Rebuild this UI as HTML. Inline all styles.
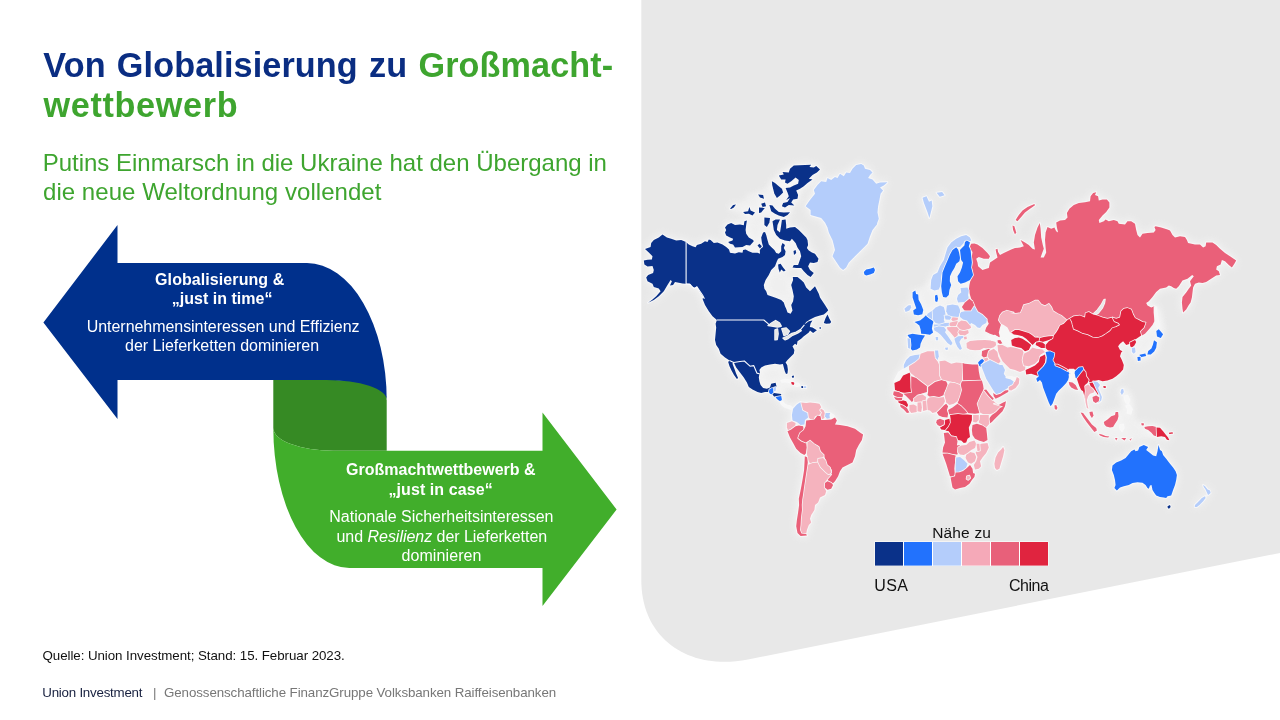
<!DOCTYPE html>
<html lang="de">
<head>
<meta charset="utf-8">
<title>Von Globalisierung zu Großmachtwettbewerb</title>
<style>
html,body{margin:0;padding:0;background:#fff;}
body{width:1280px;height:720px;position:relative;overflow:hidden;font-family:"Liberation Sans",Arial,sans-serif;}
.t{position:absolute;white-space:nowrap;line-height:1;margin:0;}
#bg{position:absolute;left:0;top:0;width:1280px;height:720px;}
.title{font-weight:bold;font-size:34.67px;color:#0a2d82;}
.green{color:#3ea52f;}
.sub{font-size:24px;color:#3ea52f;}
.aw{color:#fff;font-size:16px;text-align:center;}
.b{font-weight:bold;}
.src{font-size:13.33px;color:#111;}
.ft{font-size:12px;color:#17203f;}
.ftg{color:#777;}
.lg{font-size:15.5px;color:#111;}
</style>
</head>
<body>
<svg id="bg" width="1280" height="720" viewBox="0 0 1280 720">
  <defs><filter id="glow" x="-5%" y="-5%" width="110%" height="110%"><feGaussianBlur stdDeviation="4"/></filter><filter id="mist" x="-5%" y="-5%" width="110%" height="110%"><feGaussianBlur stdDeviation="2.5"/></filter></defs>
  <!-- grey panel -->
  <path d="M641.3 0 H1280 V553 L748 659.5 C690 671 641.3 640 641.3 580 Z" fill="#e8e8e8"/>
  <!-- arrows -->
  <path d="M273.3 380 H330 C386.7 380 386.7 395 386.7 400 V450.8 H333.3 A60 22.8 0 0 1 273.3 428 Z" fill="#368a24"/>
  <path d="M43.4 322.5 L117.5 225 V263 H307 A79.7 137 0 0 1 386.7 400 A60 20 0 0 0 326.7 380 H117.5 V419 Z" fill="#00308c"/>
  <path d="M616.6 509.4 L542.5 412.5 V450.8 H333.3 A60 22.8 0 0 1 273.3 428 A76 140 0 0 0 349.3 568 H542.5 V606 Z" fill="#41ae2b"/>
  <g id="map" stroke="#f8f8f8" stroke-width="1.5" stroke-linejoin="round" paint-order="stroke">
<path fill="#ffffff" opacity="0.32" stroke="none" filter="url(#mist)" d="M727.5,208.8 733.8,203.1 745,200 747.5,193.8 757.5,192.5 767.5,187.5 771.2,180 780,173.8 790,167.5 805,164.4 816.2,165 820.6,169.4 812.5,180 800,190 798.8,200 792.5,206.2 791.2,212.5 786.2,217.5 775,217.5 767.5,216.2 760,217.5 755,220 750,220 745,217.5 738.8,213.8ZM725,223.8 746.2,220 765,220 777.5,226.2 787.5,227.5 796.2,238.8 800,251.2 795,263.8 790,272.5 777.5,273.8 777.5,257.5 765,252.5 752.5,253.1 730,253.1 726.2,246.9 725,232.5ZM767.5,270 778.8,272.5 791.2,276.2 792.5,290 791.2,300 785,305 775,297.5 767.5,295 763.8,285ZM760,365 782.5,364.4 786.2,375 795,380 807.5,386.2 806.2,388.8 795,387.5 785,391.2 782.5,400 790,406.2 793.8,402.5 785,408.8 780,402.5 776.2,387.5 770,388.8 761.2,386.2 758.8,377.5ZM910,351.2 921.2,350 925,336.2 933.8,332.5 935,327.5 946.2,327.5 955,338.8 966.2,345 970,350 982.5,351.2 981.9,357.5 978.8,363.1 962.5,363.1 951.2,363.8 939.4,361.2 935,351.2 920,354.4 906.2,360ZM966.9,332.5 971.2,330 977.5,328.1 986.2,327.5 993.8,336.2 991.2,340.6 977.5,340.2 966.5,343.1ZM915,291.2 931.2,280 940,285 942.5,297.5 948.8,295 950,276.2 957.5,262.5 961.2,267.5 958.1,281.2 970,280.6 967.5,287.5 960.6,288.1 957.5,300 946.2,305 932.5,315 922.5,312.5 918.8,300ZM1118.8,387.5 1126.2,387.5 1132.5,396.2 1133.1,415 1128.8,427.5 1120,430 1117.5,417.5 1122.5,405 1120,395ZM1080,411.2 1093.8,410 1117.5,411.2 1132.5,407.5 1135,418.8 1145,425 1157.5,426.2 1170,437.5 1155,437.5 1132.5,441.2 1115,441.2 1097.5,435 1096.2,428.8ZM1146.2,303.1 1155,306.2 1160,307.5 1165,330 1160,340 1157.5,351.2 1148.8,357.5 1137.5,360 1131.2,355 1132.5,346.2 1142.5,335.6 1152.5,325 1155,311.2Z"/>
<path fill="#ffffff" fill-rule="evenodd" stroke="none" opacity="0.6" filter="url(#glow)" d="M892.2,394.1 893,395.9 893.1,397.3 894.8,399.9 897,401.2 897.7,403 898.8,404 899.8,407.5 903,410.1 906.4,414 909.8,413.5 911.4,414.1 918.2,412.4 921.4,412.9 922.7,412 927.1,411.1 929.5,411.6 932.2,414.1 936,413.4 938.4,416.7 938.4,418.2 936,419.5 935.3,422.6 936.7,425.6 938.7,426.8 940.5,430 942.6,430.7 943.2,431.5 942.8,433.2 943.9,442.3 942.2,447.3 941.5,454 949.6,477.4 951.5,487.8 954.8,490.3 965.3,487.8 970,484.5 975.3,477.2 976,473.6 974.3,472.2 974.3,470.9 975.1,470.4 979.2,469.6 982.2,466.6 981.3,461.2 987.1,453.6 989.7,447.6 987.9,441.7 988.5,440 987.4,427.8 990.1,424.5 992.6,422.6 1003.3,411.9 1005.9,406.6 1007,401.3 1006.6,400.5 1005.7,400.3 998.7,403.6 995.6,401.7 995.4,400.2 1008.6,392.8 1009.6,391.6 1011.7,391.5 1016.2,388.9 1019.7,384.2 1020.3,378.5 1017.4,376 1016.5,375.9 1015,376.9 1011.3,375.9 1007.4,376.3 1006.4,375.9 1005,373.4 1006,370.1 1005.6,368.4 1006.4,367.5 1007.4,367.6 1009.6,369.7 1019.7,372.8 1024.2,371.7 1024.9,372.3 1025.3,374.7 1026,375.3 1031.2,374.8 1035.5,376.3 1035.9,377.3 1035.3,378.9 1036.7,382.5 1037.7,382.9 1039.7,381.9 1040.9,382.9 1042.2,387.9 1047.8,402.8 1049.8,406.8 1050.7,407.2 1052,406.4 1053,406.5 1053.9,409.3 1056,411 1057,410.6 1058.5,407.8 1057,404.3 1054.7,404.2 1053.9,403 1057.1,394.4 1059.5,391.2 1066.4,384.4 1067.9,384.3 1070.6,388.2 1074.6,390.3 1078.1,391 1079.5,390.4 1080.4,390.6 1082.3,392.2 1086,408.5 1088.6,410.3 1088.4,412 1089.1,415.6 1088.7,416.6 1087.4,416.8 1083.7,412.3 1080.3,411.6 1079.7,412.8 1082.2,417.4 1086.1,423.1 1093.7,432.6 1094.6,432.9 1097,432.1 1097.7,432.8 1097.9,434.2 1099.5,436.5 1103.5,437.8 1108.5,438.4 1110.2,437 1110.1,435.8 1106,435 1102.2,433.4 1098.1,432.5 1097.1,427.6 1092.6,423.7 1090.4,420.8 1090.5,419.6 1092.6,418.8 1094.5,415.5 1093.2,410.8 1092.6,410.5 1090.3,410.7 1089.5,410 1088,399.8 1089.1,396.7 1090.5,395.8 1091.5,396.7 1092.3,401.8 1095.2,404 1098.5,404.1 1101.9,401.4 1102.9,396.7 1099.5,387.9 1100.3,386.5 1101.1,386.1 1102.1,386.5 1102.9,388.6 1103.5,389.1 1106.4,388.7 1107,387.6 1106.5,385.6 1106,385.1 1101.4,385.3 1100.3,383.6 1100.4,382.5 1101.2,382 1102.5,382.2 1107.7,381.6 1113,379.6 1120.6,373.9 1124,369.9 1124.7,364.8 1121.2,356.2 1122.1,353.2 1123.5,351.1 1123.1,350.5 1120.8,349.2 1119.6,346.9 1119.6,346 1120.8,344.4 1123.1,343.1 1125.9,345.9 1128.1,345.5 1128.8,345.8 1130.8,348.2 1131,352.4 1133.2,354.6 1134.2,354.6 1136.6,352 1135.4,346 1137.2,342.1 1137,339.8 1141.3,336.8 1145.7,334.5 1154.1,325 1155.4,325.5 1156.7,328.7 1156.5,329.6 1155.3,330.9 1156.2,337.1 1160.6,339.1 1161.7,338.6 1164.1,334.2 1159.7,328.6 1160.4,326.1 1157.9,313.7 1157.2,307.1 1154.6,305.3 1150.8,306.2 1148.3,304.8 1147.8,303.9 1148.1,303.1 1153.2,297.5 1157,292.6 1160.4,289.7 1166.5,288.5 1169.2,286.8 1170.8,287.2 1173.4,289.1 1176.6,289.7 1179.5,286.9 1183.2,281.5 1188.1,279.8 1189,280.6 1189.9,285.6 1181.5,296.8 1180.9,302.5 1181.5,308.8 1182.2,312.9 1182.8,313.5 1183.6,313.4 1187.1,309.9 1191.5,302.9 1192.9,297.6 1194.1,287.9 1195.7,284.7 1198.8,283.6 1202.6,284.1 1206.5,282.8 1216.5,276.6 1220.7,275.7 1221,274.8 1219.7,270.8 1217.8,269.2 1217.5,268.2 1218.1,266.8 1221.4,265 1222.7,261.9 1224.4,262.1 1228.2,265.8 1232,268.5 1232.6,268.1 1235.2,264.3 1237.2,261.1 1237.2,260.3 1225.6,252.3 1216.9,244.2 1212.9,241.6 1205.9,241.6 1205.3,242.2 1204.7,245.3 1203.7,246 1202.8,245.7 1200.3,243.4 1195.1,243.4 1189.4,242.3 1188.7,241.8 1185.5,236 1179.9,235.3 1175.2,236.2 1173.3,234.3 1170.6,229.8 1167.9,228.4 1161.6,226.5 1155.3,225.3 1153.4,226.6 1154.3,229.7 1153.2,231.5 1142.2,232.8 1140.5,234.9 1139.5,235.2 1138.4,234.3 1135.9,223.3 1131.6,220.3 1127.1,220.3 1124.9,222.9 1124,223.3 1119.7,222.8 1118.1,220.4 1113.9,219 1109,220.1 1105.5,218.4 1103.1,220.4 1101.4,220.7 1100.8,220 1101,218.9 1107,212.5 1110.3,207.9 1110.4,202.3 1107.2,198.4 1099.8,198.7 1098.9,195.7 1096.9,194.4 1097.2,192.1 1096.4,191.3 1092.3,192.5 1089.7,195.9 1089.2,199.7 1088.6,200.5 1078.5,202.2 1073.1,204.3 1068.6,208.1 1066,212.6 1066.1,217.5 1064.5,219 1059.7,219.7 1055.6,221.7 1055.3,222.4 1055.6,225.5 1055.1,226.3 1051.4,227.5 1047.8,225.9 1046.8,226.1 1044.7,232.1 1044.4,234.9 1043.6,235.7 1042.7,235.6 1042.1,234.9 1040.7,222.8 1040,222.2 1039.1,222.4 1036.6,227.1 1034,234.8 1032.8,242.4 1033.1,245.2 1032.6,246.1 1031.4,246.1 1029.4,244.2 1025.6,241.7 1021,239.1 1020.3,239.1 1019.7,240.3 1021.8,244.9 1021,246.1 1014.8,247.2 1011,248.4 1000.9,253.3 1000,253 999.1,251.6 998.1,248 997.3,247.8 995.1,248.6 994.6,249.5 996.1,256.9 991.3,260.3 990.3,260.2 989.8,259.3 990.9,255.9 988.3,252.5 983.2,247.4 978,243.5 972.6,242.3 972.2,240.2 970.6,236.7 966.4,234 960.9,235.3 955.7,237.9 950.7,241.7 946.7,247 942.8,259.5 939.1,265.8 936.8,271.5 932.2,274.7 930.3,279.8 929.6,288.9 930.1,289.6 934.2,291.6 940.1,290.4 940.7,291.1 942.3,297.5 946,298.5 946.9,298.3 949.7,295.4 950.4,290.2 952.2,285.2 950.8,281.1 951.1,276.3 957.1,264.4 960.6,261.8 961.5,262.1 961.9,262.9 960.9,267.1 959.1,272 956.5,276.1 957.2,281.6 960.7,284.8 967.8,282.6 968.6,283.6 968.2,285.8 967.3,286.5 960.9,287 959.8,287.6 960,292 957.3,294.4 955.9,298.5 957.1,302.7 956.6,303.9 952.3,303.4 946.6,304.7 944.8,306.1 939.7,304.7 935.1,306.7 931.9,309.8 924.8,314.6 923.9,314.3 923.5,313.6 924.2,309.6 922,303.7 919.6,299.5 919.1,294.2 917,292.9 916.3,290 915.7,289.5 914.9,289.5 911.9,291.5 911.6,297.7 913.4,304 912.4,304.8 910.7,304 907.7,304.7 903.7,308 903.4,309 904.7,312.2 905.8,312.8 911.6,310.7 912.3,311.4 913.5,315.3 918.1,316.3 921.4,315.5 922.2,316 922.5,316.8 919.6,319.6 914.1,320.9 913.4,321.7 913.7,322.6 918.5,326.3 919.7,329.7 920.1,332.5 919.7,333.4 918.8,333.7 912.4,332.8 907.2,334.1 906.6,334.6 907.1,336.6 906.5,338.1 907.1,348.3 907.7,349 910.3,349.9 912.3,351.6 917.4,350.2 920.9,348 921.6,343.9 923.4,339.9 926.1,335.7 926.9,335.3 930.3,335.7 935.2,332.3 937,333.2 938.2,334.7 937.6,335.7 935.3,335.9 934.7,336.5 935.3,341 938.8,341 939.2,337.3 939.9,336.7 940.7,336.7 948,344.9 948,345.8 947.5,346.4 944.7,346.8 944.1,347.3 945.1,350.6 948.1,350.8 949.4,347 951.6,346.4 953.1,344 954.1,343.7 955,344.1 956.7,347.4 959.3,350.7 960.6,350.8 962.9,348.9 960.6,342 961.8,339.9 962.8,339.5 964,340.3 965.5,340.4 966.2,341.1 965.5,343.1 966,348.7 969.8,350.7 980.4,351.2 980.9,352 980.7,355.9 981.4,357.9 976.3,363.4 965.3,362.8 956.3,361.5 951.3,362.6 945.3,359.7 940.2,360.1 939.3,359.8 939,358.8 939.7,356.2 939.1,350.5 938.1,349.6 934.9,349.6 933.6,350.2 927.3,350.3 919.4,353.4 909.6,355.3 905.4,359.5 902.8,364.7 902.6,368.7 898,371.9 893.5,380.8 893.9,389.4 892.8,390.9ZM1076.9,381.9 1076.7,383 1075.6,383.5 1074.2,382.6 1073.8,381.6 1074.5,380.3 1075.4,379.9 1076.3,380.4ZM987,388.7 984.5,387.8 982.8,380.4 980.9,377.1 979.9,371.6 980.7,370.4 982.1,371.1 985.4,379.2 992.6,391 992.6,392.2 991.7,393.3 990.5,393.2ZM988.4,259.8 989.4,260.2 989.6,261.1 987.5,267.3 982.8,268.7 979.1,265.7 977.6,259.7 978.5,258.3 979.4,258.2 983.6,259.7ZM985.3,327.1 984,331.4 984.5,332.1 988.7,334.5 988.7,335.4 987.8,336.7 988,338 987.5,338.9 977.4,339.3 969.1,340.2 968.1,339.7 967.5,335.5 969.6,333.6 969.3,330.3 972.1,328.3 972,326.4 972.4,325.6 973.7,325.5 977,328.4 979.9,329.1 980.6,328.9 983.8,325.5 985.1,325.8ZM970.6,440.5 969.5,440.2 969.3,438.9 971.3,437 972.4,437 973.5,438.4 973.5,439.3 972.8,440ZM962.1,304.7 960.5,306.4 959.5,306 958.8,304.7 959.2,303.7 960.9,303.2 961.8,303.6ZM958.3,442.4 959,441.5 960.4,441.5 961.3,442.2 961.5,443.1 960.8,444 959.2,444 958.4,443.4ZM953.4,338.6 952.6,339.5 951.4,339.3 949.5,336.6 949.7,335.3 950.5,334.9 951.3,335.2 953.3,337.6ZM914.1,308.6 913.1,308.7 912.3,308 912,306.1 912.8,305.1 913.7,305.2 914.3,305.9 914.8,307.5ZM908.2,402.9 908.2,401.8 909.2,401.2 910,401.5 910.8,402.6 910.5,403.6 909.6,404 908.8,403.7ZM905.9,400 903.4,399.1 903.3,398.2 903.9,396.9 905,396.6 906.7,398.1 906.8,399.1ZM1194.3,504.3 1193.8,506.7 1194,507.6 1197.4,507.7 1203.9,501.8 1206.5,498.6 1206.8,496.3 1208.6,495.9 1211.5,493.5 1210.7,490 1208.2,488.6 1205.7,485.5 1203.5,484.1 1202.5,484.2 1202.2,485.2 1202.9,487.4 1204.8,490 1206.3,493.6 1206.3,494.5 1201.3,497.3ZM1120.5,488.4 1129.1,485.9 1133,484.1 1137.5,483.3 1141.9,483.7 1144.9,485.7 1147,489 1148.7,489.7 1150.1,489.1 1151.1,489.4 1153.5,493.6 1155.8,496.5 1159.8,497.8 1166.3,499.1 1168.3,497.2 1172,496.3 1176,485.2 1177.2,480.1 1177.8,474.8 1176.5,470.8 1174,467 1164,454.5 1162.7,450.8 1160.8,449.2 1159.1,444.2 1158.2,444.1 1157.6,444.7 1156.5,451.1 1155.8,454.1 1155.1,454.8 1153.4,454.6 1148.1,450.2 1148,449.2 1149.1,447 1148.8,446.1 1143.5,444 1138.7,446.1 1137,449.6 1136,449.7 1134.2,448.4 1130.8,450.4 1124.9,457.4 1120.8,459.7 1115.8,461.6 1111.7,465 1110.9,470.2 1112.8,475.4 1114.6,484.6 1113.5,488.6 1116.2,491.4 1117,491.6ZM1140.9,422.5 1140,423.5 1141,426.1 1143.2,426.9 1144.3,429.5 1147.8,431 1150.5,433.2 1153.2,436.4 1156.5,437.8 1161.2,437.3 1164,437.7 1166.3,440.6 1169.6,441.2 1170.4,440.1 1168.7,436.6 1168.8,435.5 1169.6,435 1173.5,434.4 1174.1,433.8 1173.3,431.7 1172.6,431.3 1168.4,431.8 1167.2,433.2 1166.1,433.2 1160.4,426.8 1157.6,426.6 1152.6,425 1145.8,425.5 1145,425 1144,422.3ZM1171.4,507.6 1171.6,506.5 1170.3,504.1 1169.5,504.1 1166.6,505.9 1166.9,508.6 1168.6,509.7 1169.6,509.5ZM1139.2,353.7 1138.1,355.8 1136.9,356.3 1136.4,357.1 1137,361.4 1137.8,362.1 1141.4,361.3 1141.6,358.7 1142.2,357.9 1146.5,357 1148,355.4 1151.4,355.2 1155,352.3 1157.1,348.2 1157.7,341.7 1154.5,339.4 1153.4,339.4 1150.6,347.6 1147.5,350.3 1146.7,352.2ZM1118.2,438.7 1119.1,438 1117.7,436.9 1114.7,437.2 1114,437.9 1115.3,441 1116,441.6 1117.1,441.2ZM1119.7,438 1124.4,441.6 1127.2,439.2 1130.1,441.5 1131,441.5 1132.9,438.1 1131.9,437.1 1128.5,438.9 1127.6,438.7 1126.3,437.1 1121.2,437.1ZM1121,395.4 1123.3,396.6 1123.8,399.7 1126.2,404 1125.3,406.3 1127,409.6 1126.6,413.6 1127.3,414.1 1131.1,414.6 1132.9,409.4 1129.5,403.5 1130.3,399.7 1128.1,394.8 1125,395.1 1124.1,394.4 1124,393.6 1124.7,391.8 1124.1,388.5 1123.4,387.8 1120.8,388.5 1120.3,389.1 1119.6,392.6ZM1119.3,429 1121.7,432.2 1122.5,432 1124.7,428.4 1124.1,424.1 1123.4,423.4 1119.7,424 1119.1,424.7ZM1119.1,411.8 1118.3,410.9 1115.2,411 1113.9,414.2 1110.7,415.4 1103,421.2 1102.8,422 1103.5,424.8 1105.6,427.2 1109.9,428.5 1113.9,427.6 1118.4,420.4 1119.5,416.3ZM1021.9,209.8 1017.9,214.4 1014.7,219.6 1014.9,220.7 1017.1,222.2 1018.2,222 1025.7,213.2 1035.6,206 1035.9,204.9 1035.1,203.3 1034.1,203 1027,206ZM1017.1,233.1 1017.2,232.2 1015.2,225.7 1012.8,224.7 1012,224.8 1011.5,225.7 1012.2,230.2 1014.2,234.9 1015.6,235.2ZM1004.1,446.5 1003.4,445.9 1002.5,446.1 997.3,451.9 994.7,457.2 993.4,463.9 994.1,468.5 996.6,471 999.8,469.7 1000.3,469 1004.1,456.6 1005.3,450.2ZM936.5,191.8 935.7,192.3 935.7,193.2 939.4,197.8 945.5,195.7 945.4,194.7 942.5,191.1ZM939.1,299 937.9,294 937,293.8 934.3,295 934.2,301.3 934.6,302 937,302.9 937.8,302.7ZM922.2,196.9 921.5,197.9 923,203 928.5,218.4 929.8,219 930.4,218.3 933.4,206.4 932.6,200.2 931.8,199.5 930.1,200 929.3,199.7 926.8,195.3ZM827.8,232.7 831.5,240.4 833.9,249.7 831.6,256.6 839.2,268.1 842.6,270.8 843.5,270.9 847,268.1 849.7,263 868.4,244.2 873.4,230.6 878.5,224 878.4,222.6 879.7,218.8 878.5,212.5 879.1,206.3 881.5,194.4 884.1,190.7 882.7,188.7 882.6,187.7 888.2,182.9 888.2,181.6 887.4,181.3 880,181.5 877.2,182.4 876.3,182.2 873.1,178.6 870.9,177.9 870.4,177.2 870.8,175.6 873.4,173 873.3,171.9 870.5,169.1 865.9,167.9 864.5,164.9 861.2,163 855.7,164.2 851.7,168.1 849.7,171.6 848.9,171.9 845.9,171.6 843.6,174.3 842.7,174.3 839.7,172.8 837,176.4 834.6,176 831.1,178.6 827.3,177.2 826.6,177.6 825.3,180.5 820.6,180.5 816.7,184.4 812.9,189.5 813.6,193.9 809.2,199.4 804.6,206.4 809.5,210.5 810,215.8 820.9,219.3 824.2,223.2 826.5,227.9ZM866.1,268.4 863.1,271.1 862.8,271.9 863.6,275 866.1,276.6 874.3,273.9 876,270.2 874.6,267 873.9,266.5ZM650.5,242.5 649.6,246.1 644.6,248.1 644,249 651,256.2 651.1,257.8 650.4,258.5 643.4,259.7 642.8,260.7 643.7,265.1 647.2,267.5 651.5,267.3 652.7,270.4 652,272.4 647.5,274.2 645.3,277.6 646.8,282 651.5,284.4 653.1,287.6 657.9,289.3 659,291.1 655.5,295.6 647.4,302.1 647.4,303.4 648.5,303.7 654.2,300.9 659.3,297.1 664.5,291.9 667.9,286.4 668.8,286.2 670.1,286.6 673.5,285.9 675.8,283.2 682.5,284.5 689.3,284.8 691.3,287.1 694.5,289 697,289 702,296.8 701.5,299 704.2,305.5 707.9,311.7 711.7,316.8 715.5,320.4 714.6,323.7 715.2,327.6 714,340 715.3,345.4 717.8,349.2 719.8,354.4 727.3,360.4 727.3,362.1 728.6,366.7 733.1,375.5 736,379.6 737.2,379.9 739,378.7 739.1,377.9 738.1,375 738.8,374.1 739.9,374.1 745.9,382.9 748.2,387.7 752.1,390.3 757,392.8 761,394.1 765.2,392.9 768.1,393 769.4,394.6 771.7,395.3 773.1,397 774.9,397.8 777.4,400.7 779.6,402.1 780.2,403.7 781.8,405.7 784.4,407.7 791.5,410.5 790.9,415 791.3,420 790.7,420.6 786.4,422.2 785.9,422.9 785.9,427.6 786.8,430 786.5,431.5 789.1,438 795.4,449.3 800,453.9 803.2,455.5 803.7,456.5 803.1,470 797.8,498.6 798.1,505.1 795.3,526.3 796.6,533.6 799.9,536.7 800.7,537 807.3,536.5 807.9,535.8 807.3,533.8 807.9,530.2 809.6,525.6 812.2,522.7 811.2,518.5 812.2,515.4 815.3,510.3 816,505.6 819,503 820.9,498.3 825.8,495.7 827.5,491 832,489.4 834.1,485.4 834.1,483.6 835.8,481.9 839,476.8 840.9,471.7 843.1,468.4 853.3,463.1 856,456.5 857.2,450.3 862.8,440.3 864.1,434.1 855.4,427.8 847.7,425.3 837.7,423.5 837.2,422.5 837.8,420.3 834.5,415 830.3,412.2 825.5,411.8 824.5,409.9 822.3,408.2 822.2,406.5 819.7,402.8 810,401.5 806.1,402.1 802,401.6 800.4,400.9 796.2,403.6 792.9,406.9 790.4,405.3 787.3,404.7 785.3,403.7 782.8,400.6 782,393.4 777.6,392.5 776.8,391.8 776.9,387.9 777.5,386.2 776.4,382.1 775.5,381.8 770.7,382.9 768.7,387 766.8,387.7 764,387.2 761.5,384.4 759.8,377.4 761,372.7 760.6,370.2 761.9,368.4 765.5,366.5 774.9,364.8 781.9,365.5 785.2,374.6 786.1,375 788.1,374.3 788.5,373.7 788.9,369.3 788.2,364.8 787.1,362.3 794.7,354.1 795.4,350 794,347 794.2,346 795.2,345.4 796.7,346 797.5,345.8 798.7,341.7 809.9,332.8 810.9,332.7 813.4,334.1 818.3,330 820,330 821.9,328.9 821.6,326.6 820.9,325.9 818.7,326.8 818.2,328.5 817.2,329.1 811.5,326 811.5,324.1 813.4,321 813.6,318.8 815.4,317.8 824.1,315.5 824.9,315.9 825.1,316.8 822.8,322.9 823.1,323.9 826.2,324.7 830.2,324.5 832.1,322.3 832.2,321.4 827.9,313.1 828,312.2 829.1,310.9 829,309.6 820.9,297.1 819.6,293.3 815.8,285.6 814.5,285.4 810.8,289.1 809.4,289.2 807,286.8 804.5,281.9 798,276 792.7,275.9 791.8,276.7 792.1,279.9 790.3,285 792.7,296.4 792.2,300.9 790.3,304.8 791.4,310.3 790.1,312.1 788.3,311.5 784.6,302 782,299.3 768.5,294.2 767.1,290.7 765.3,288.1 764.8,285 766.5,280.4 772,270.7 775.5,267.2 776.5,266.9 777.2,267.5 778.8,272.8 779.4,273.4 780.3,273.3 781.6,271.8 783.9,272.5 786.5,271 786.5,270.1 781.3,263 778.6,263 777.8,261.9 779,259.5 783,257.7 785.9,255.3 786.6,251.2 785,248.1 786,245.1 784.8,243.1 785.4,241.9 790.1,242.2 791.6,241.1 792.8,241.4 794.8,243.7 796.4,247.8 795.9,248.8 792.6,250.6 793.1,255.5 794.5,255.9 797.5,252.9 798.4,252.6 799.4,253.2 800.1,255.8 797.5,263.5 796.8,264 793.1,264.2 791.6,267.1 791.7,268.1 796.1,269.1 800.8,269.3 806.8,275.7 810.2,277.8 811.3,277.6 814.7,273 810.8,269.3 809.5,266.7 809.5,265.7 810.9,263.8 813.9,264.1 818.1,262.7 819.4,258.3 815.7,253 809.6,250 808.4,248.5 808.2,247.6 809.1,245 808.4,239.5 807,236.9 799.5,229.3 795.3,225.9 788.5,226.9 787.5,226.4 786.6,219.2 785.9,217.4 788.2,215.7 790.7,212.9 790.7,211.6 790.1,211.3 783.8,211.5 779.2,210.9 775.7,208 773,204.7 769.4,204 767.9,204.9 766.9,204.7 765.9,202 764.4,200.7 763.8,201.8 760.4,203.2 760.6,205.7 760,206.4 758.1,207 758,211.4 757.4,212.3 756.4,212.4 751.6,209.9 750.2,206.4 749.4,205.9 748.5,206.4 747.2,210.2 742.8,210.9 742.2,212.1 744.6,214.9 748.6,214.8 752.7,216.6 756.5,212.5 757.5,212.6 758.9,214.1 761.8,213.3 766.2,207.4 767.9,206.3 768.9,207 770.5,212 777.8,216.4 778.1,217.3 777.6,218.2 775.3,218.4 772.2,220.1 771.1,219.5 771,217.9 770.4,217.2 763.8,216.7 763.4,217.4 763.4,225 763.8,225.8 767,227.9 767.7,227.5 770,223.6 770.8,223.2 771.6,223.5 772.8,230.3 775.4,235.5 779.4,239.5 782.1,240.9 782.2,241.9 780.3,246.1 780.2,250.7 778.5,252.4 776.9,252.1 775.2,249.4 769.7,243.9 767.2,234.6 765.9,231.4 765.1,230.9 762.3,232 760.3,237.3 760.7,242 760,242.6 758.7,243 756.5,245.3 756.7,246.2 758.8,248.8 758.4,251.4 752.6,251.7 749.2,250.3 745.6,248.2 745.3,247 746.2,246.2 750.6,246.4 754.7,241.3 753.9,239.3 749.5,236.8 747.2,233.4 746.6,229.9 747.9,220.6 746.9,219.6 743.7,220.5 743,223.1 742.1,223.8 740,223.4 735.2,223.9 731.3,222.1 727.2,223.4 724,227.3 725,230.1 724,232.7 725.4,236.1 729.5,238.4 730,239.1 729.6,240.3 727.4,241.2 727.3,242.4 729.5,244.6 732.5,245.4 734.6,248.4 741.7,248.2 742.3,249.4 741.8,250.9 741.1,251.5 738.6,251.3 734.9,252.4 731.2,251.9 729.7,248.7 726.9,246.1 723.1,243.6 717.6,241.5 714.1,241.9 711.2,239.2 709,238.4 708.1,238.6 706.8,240.4 704.6,240.3 700.8,242.8 696.4,244.1 695.3,245.5 694.4,245.8 689.4,243.6 686.4,241 681.6,239.1 676.2,239.5 667.4,236.6 662.6,233.4 658.2,236.7 653.1,239.2ZM764.3,200.4 765,198.6 763.8,194.3 758.3,193.4 757.4,193.6 757.2,194.7 759.3,198.2 763.6,199.7ZM782.7,188.1 775.5,182.3 772.2,180.3 771,180.7 771.3,185.3 773.4,194 776.3,198.9 777.3,199 780.6,196.4 784.6,191.9 785.9,191.9 786.5,192.8 787.4,196.4 785.4,199.5 785,201.3 782.3,202.6 780.9,206 781.1,206.9 785,208.5 789.1,206.1 794.8,206.5 795.3,205.2 793.1,202.9 792.8,202 794,200.3 797.7,199.7 798.4,199.2 799.1,195 797.9,191.9 798.1,191 804.3,187.1 813.2,180.1 813.5,179.1 812.2,177.9 812.3,176.7 817.5,173.3 820.8,170 820.9,168.9 816.6,165.1 813.8,166.3 812.9,166.2 812.3,165.6 812.1,164.2 811.4,163.8 793.3,164.7 789.2,168.1 787.9,171.1 782.1,170.9 781.5,171.7 781.5,173.7 778.2,174.8 777.8,175.8 780.5,180.1 783.6,180.6 784.1,181.3 784.2,183.1 787.8,185.4 788.2,184.5 795.3,179.2 796.2,179.3 797.4,180.3 797.2,182.7 789.8,186.5 788.5,186.6 787.8,185.8 787.3,186.7 785.1,187.3 784.1,188.4ZM790.8,375.9 791.1,378.8 790.2,379.4 784.8,378.4 780.8,379.8 780.3,380.9 781.5,382.8 785.6,382.5 789.2,383.2 790.4,383.7 791.4,385.2 796.6,387.2 799.6,386.4 801.2,389 806.3,388.9 807.1,388.4 807.2,386.2 806.7,385.4 800.9,385.1 798.6,382.6 796.2,382.4 793,380.5 792.9,379 795,377.8 794.3,374.8 791,375.2ZM736.8,205 736.9,204 736.2,203.4 732.6,204.1 729.2,208.2 729.1,209.2 729.8,209.7 731.8,209.8 734.4,208.2Z"/><path fill="#f4f4f6" fill-rule="evenodd" stroke="none" d="M892.2,394.1 893,395.9 893.1,397.3 894.8,399.9 897,401.2 897.7,403 898.8,404 899.8,407.5 903,410.1 906.4,414 909.8,413.5 911.4,414.1 918.2,412.4 921.4,412.9 922.7,412 927.1,411.1 929.5,411.6 932.2,414.1 936,413.4 938.4,416.7 938.4,418.2 936,419.5 935.3,422.6 936.7,425.6 938.7,426.8 940.5,430 942.6,430.7 943.2,431.5 942.8,433.2 943.9,442.3 942.2,447.3 941.5,454 949.6,477.4 951.5,487.8 954.8,490.3 965.3,487.8 970,484.5 975.3,477.2 976,473.6 974.3,472.2 974.3,470.9 975.1,470.4 979.2,469.6 982.2,466.6 981.3,461.2 987.1,453.6 989.7,447.6 987.9,441.7 988.5,440 987.4,427.8 990.1,424.5 992.6,422.6 1003.3,411.9 1005.9,406.6 1007,401.3 1006.6,400.5 1005.7,400.3 998.7,403.6 995.6,401.7 995.4,400.2 1008.6,392.8 1009.6,391.6 1011.7,391.5 1016.2,388.9 1019.7,384.2 1020.3,378.5 1017.4,376 1016.5,375.9 1015,376.9 1011.3,375.9 1007.4,376.3 1006.4,375.9 1005,373.4 1006,370.1 1005.6,368.4 1006.4,367.5 1007.4,367.6 1009.6,369.7 1019.7,372.8 1024.2,371.7 1024.9,372.3 1025.3,374.7 1026,375.3 1031.2,374.8 1035.5,376.3 1035.9,377.3 1035.3,378.9 1036.7,382.5 1037.7,382.9 1039.7,381.9 1040.9,382.9 1042.2,387.9 1047.8,402.8 1049.8,406.8 1050.7,407.2 1052,406.4 1053,406.5 1053.9,409.3 1056,411 1057,410.6 1058.5,407.8 1057,404.3 1054.7,404.2 1053.9,403 1057.1,394.4 1059.5,391.2 1066.4,384.4 1067.9,384.3 1070.6,388.2 1074.6,390.3 1078.1,391 1079.5,390.4 1080.4,390.6 1082.3,392.2 1086,408.5 1088.6,410.3 1088.4,412 1089.1,415.6 1088.7,416.6 1087.4,416.8 1083.7,412.3 1080.3,411.6 1079.7,412.8 1082.2,417.4 1086.1,423.1 1093.7,432.6 1094.6,432.9 1097,432.1 1097.7,432.8 1097.9,434.2 1099.5,436.5 1103.5,437.8 1108.5,438.4 1110.2,437 1110.1,435.8 1106,435 1102.2,433.4 1098.1,432.5 1097.1,427.6 1092.6,423.7 1090.4,420.8 1090.5,419.6 1092.6,418.8 1094.5,415.5 1093.2,410.8 1092.6,410.5 1090.3,410.7 1089.5,410 1088,399.8 1089.1,396.7 1090.5,395.8 1091.5,396.7 1092.3,401.8 1095.2,404 1098.5,404.1 1101.9,401.4 1102.9,396.7 1099.5,387.9 1100.3,386.5 1101.1,386.1 1102.1,386.5 1102.9,388.6 1103.5,389.1 1106.4,388.7 1107,387.6 1106.5,385.6 1106,385.1 1101.4,385.3 1100.3,383.6 1100.4,382.5 1101.2,382 1102.5,382.2 1107.7,381.6 1113,379.6 1120.6,373.9 1124,369.9 1124.7,364.8 1121.2,356.2 1122.1,353.2 1123.5,351.1 1123.1,350.5 1120.8,349.2 1119.6,346.9 1119.6,346 1120.8,344.4 1123.1,343.1 1125.9,345.9 1128.1,345.5 1128.8,345.8 1130.8,348.2 1131,352.4 1133.2,354.6 1134.2,354.6 1136.6,352 1135.4,346 1137.2,342.1 1137,339.8 1141.3,336.8 1145.7,334.5 1154.1,325 1155.4,325.5 1156.7,328.7 1156.5,329.6 1155.3,330.9 1156.2,337.1 1160.6,339.1 1161.7,338.6 1164.1,334.2 1159.7,328.6 1160.4,326.1 1157.9,313.7 1157.2,307.1 1154.6,305.3 1150.8,306.2 1148.3,304.8 1147.8,303.9 1148.1,303.1 1153.2,297.5 1157,292.6 1160.4,289.7 1166.5,288.5 1169.2,286.8 1170.8,287.2 1173.4,289.1 1176.6,289.7 1179.5,286.9 1183.2,281.5 1188.1,279.8 1189,280.6 1189.9,285.6 1181.5,296.8 1180.9,302.5 1181.5,308.8 1182.2,312.9 1182.8,313.5 1183.6,313.4 1187.1,309.9 1191.5,302.9 1192.9,297.6 1194.1,287.9 1195.7,284.7 1198.8,283.6 1202.6,284.1 1206.5,282.8 1216.5,276.6 1220.7,275.7 1221,274.8 1219.7,270.8 1217.8,269.2 1217.5,268.2 1218.1,266.8 1221.4,265 1222.7,261.9 1224.4,262.1 1228.2,265.8 1232,268.5 1232.6,268.1 1235.2,264.3 1237.2,261.1 1237.2,260.3 1225.6,252.3 1216.9,244.2 1212.9,241.6 1205.9,241.6 1205.3,242.2 1204.7,245.3 1203.7,246 1202.8,245.7 1200.3,243.4 1195.1,243.4 1189.4,242.3 1188.7,241.8 1185.5,236 1179.9,235.3 1175.2,236.2 1173.3,234.3 1170.6,229.8 1167.9,228.4 1161.6,226.5 1155.3,225.3 1153.4,226.6 1154.3,229.7 1153.2,231.5 1142.2,232.8 1140.5,234.9 1139.5,235.2 1138.4,234.3 1135.9,223.3 1131.6,220.3 1127.1,220.3 1124.9,222.9 1124,223.3 1119.7,222.8 1118.1,220.4 1113.9,219 1109,220.1 1105.5,218.4 1103.1,220.4 1101.4,220.7 1100.8,220 1101,218.9 1107,212.5 1110.3,207.9 1110.4,202.3 1107.2,198.4 1099.8,198.7 1098.9,195.7 1096.9,194.4 1097.2,192.1 1096.4,191.3 1092.3,192.5 1089.7,195.9 1089.2,199.7 1088.6,200.5 1078.5,202.2 1073.1,204.3 1068.6,208.1 1066,212.6 1066.1,217.5 1064.5,219 1059.7,219.7 1055.6,221.7 1055.3,222.4 1055.6,225.5 1055.1,226.3 1051.4,227.5 1047.8,225.9 1046.8,226.1 1044.7,232.1 1044.4,234.9 1043.6,235.7 1042.7,235.6 1042.1,234.9 1040.7,222.8 1040,222.2 1039.1,222.4 1036.6,227.1 1034,234.8 1032.8,242.4 1033.1,245.2 1032.6,246.1 1031.4,246.1 1029.4,244.2 1025.6,241.7 1021,239.1 1020.3,239.1 1019.7,240.3 1021.8,244.9 1021,246.1 1014.8,247.2 1011,248.4 1000.9,253.3 1000,253 999.1,251.6 998.1,248 997.3,247.8 995.1,248.6 994.6,249.5 996.1,256.9 991.3,260.3 990.3,260.2 989.8,259.3 990.9,255.9 988.3,252.5 983.2,247.4 978,243.5 972.6,242.3 972.2,240.2 970.6,236.7 966.4,234 960.9,235.3 955.7,237.9 950.7,241.7 946.7,247 942.8,259.5 939.1,265.8 936.8,271.5 932.2,274.7 930.3,279.8 929.6,288.9 930.1,289.6 934.2,291.6 940.1,290.4 940.7,291.1 942.3,297.5 946,298.5 946.9,298.3 949.7,295.4 950.4,290.2 952.2,285.2 950.8,281.1 951.1,276.3 957.1,264.4 960.6,261.8 961.5,262.1 961.9,262.9 960.9,267.1 959.1,272 956.5,276.1 957.2,281.6 960.7,284.8 967.8,282.6 968.6,283.6 968.2,285.8 967.3,286.5 960.9,287 959.8,287.6 960,292 957.3,294.4 955.9,298.5 957.1,302.7 956.6,303.9 952.3,303.4 946.6,304.7 944.8,306.1 939.7,304.7 935.1,306.7 931.9,309.8 924.8,314.6 923.9,314.3 923.5,313.6 924.2,309.6 922,303.7 919.6,299.5 919.1,294.2 917,292.9 916.3,290 915.7,289.5 914.9,289.5 911.9,291.5 911.6,297.7 913.4,304 912.4,304.8 910.7,304 907.7,304.7 903.7,308 903.4,309 904.7,312.2 905.8,312.8 911.6,310.7 912.3,311.4 913.5,315.3 918.1,316.3 921.4,315.5 922.2,316 922.5,316.8 919.6,319.6 914.1,320.9 913.4,321.7 913.7,322.6 918.5,326.3 919.7,329.7 920.1,332.5 919.7,333.4 918.8,333.7 912.4,332.8 907.2,334.1 906.6,334.6 907.1,336.6 906.5,338.1 907.1,348.3 907.7,349 910.3,349.9 912.3,351.6 917.4,350.2 920.9,348 921.6,343.9 923.4,339.9 926.1,335.7 926.9,335.3 930.3,335.7 935.2,332.3 937,333.2 938.2,334.7 937.6,335.7 935.3,335.9 934.7,336.5 935.3,341 938.8,341 939.2,337.3 939.9,336.7 940.7,336.7 948,344.9 948,345.8 947.5,346.4 944.7,346.8 944.1,347.3 945.1,350.6 948.1,350.8 949.4,347 951.6,346.4 953.1,344 954.1,343.7 955,344.1 956.7,347.4 959.3,350.7 960.6,350.8 962.9,348.9 960.6,342 961.8,339.9 962.8,339.5 964,340.3 965.5,340.4 966.2,341.1 965.5,343.1 966,348.7 969.8,350.7 980.4,351.2 980.9,352 980.7,355.9 981.4,357.9 976.3,363.4 965.3,362.8 956.3,361.5 951.3,362.6 945.3,359.7 940.2,360.1 939.3,359.8 939,358.8 939.7,356.2 939.1,350.5 938.1,349.6 934.9,349.6 933.6,350.2 927.3,350.3 919.4,353.4 909.6,355.3 905.4,359.5 902.8,364.7 902.6,368.7 898,371.9 893.5,380.8 893.9,389.4 892.8,390.9ZM1076.9,381.9 1076.7,383 1075.6,383.5 1074.2,382.6 1073.8,381.6 1074.5,380.3 1075.4,379.9 1076.3,380.4ZM987,388.7 984.5,387.8 982.8,380.4 980.9,377.1 979.9,371.6 980.7,370.4 982.1,371.1 985.4,379.2 992.6,391 992.6,392.2 991.7,393.3 990.5,393.2ZM988.4,259.8 989.4,260.2 989.6,261.1 987.5,267.3 982.8,268.7 979.1,265.7 977.6,259.7 978.5,258.3 979.4,258.2 983.6,259.7ZM985.3,327.1 984,331.4 984.5,332.1 988.7,334.5 988.7,335.4 987.8,336.7 988,338 987.5,338.9 977.4,339.3 969.1,340.2 968.1,339.7 967.5,335.5 969.6,333.6 969.3,330.3 972.1,328.3 972,326.4 972.4,325.6 973.7,325.5 977,328.4 979.9,329.1 980.6,328.9 983.8,325.5 985.1,325.8ZM970.6,440.5 969.5,440.2 969.3,438.9 971.3,437 972.4,437 973.5,438.4 973.5,439.3 972.8,440ZM962.1,304.7 960.5,306.4 959.5,306 958.8,304.7 959.2,303.7 960.9,303.2 961.8,303.6ZM958.3,442.4 959,441.5 960.4,441.5 961.3,442.2 961.5,443.1 960.8,444 959.2,444 958.4,443.4ZM953.4,338.6 952.6,339.5 951.4,339.3 949.5,336.6 949.7,335.3 950.5,334.9 951.3,335.2 953.3,337.6ZM914.1,308.6 913.1,308.7 912.3,308 912,306.1 912.8,305.1 913.7,305.2 914.3,305.9 914.8,307.5ZM908.2,402.9 908.2,401.8 909.2,401.2 910,401.5 910.8,402.6 910.5,403.6 909.6,404 908.8,403.7ZM905.9,400 903.4,399.1 903.3,398.2 903.9,396.9 905,396.6 906.7,398.1 906.8,399.1ZM1194.3,504.3 1193.8,506.7 1194,507.6 1197.4,507.7 1203.9,501.8 1206.5,498.6 1206.8,496.3 1208.6,495.9 1211.5,493.5 1210.7,490 1208.2,488.6 1205.7,485.5 1203.5,484.1 1202.5,484.2 1202.2,485.2 1202.9,487.4 1204.8,490 1206.3,493.6 1206.3,494.5 1201.3,497.3ZM1120.5,488.4 1129.1,485.9 1133,484.1 1137.5,483.3 1141.9,483.7 1144.9,485.7 1147,489 1148.7,489.7 1150.1,489.1 1151.1,489.4 1153.5,493.6 1155.8,496.5 1159.8,497.8 1166.3,499.1 1168.3,497.2 1172,496.3 1176,485.2 1177.2,480.1 1177.8,474.8 1176.5,470.8 1174,467 1164,454.5 1162.7,450.8 1160.8,449.2 1159.1,444.2 1158.2,444.1 1157.6,444.7 1156.5,451.1 1155.8,454.1 1155.1,454.8 1153.4,454.6 1148.1,450.2 1148,449.2 1149.1,447 1148.8,446.1 1143.5,444 1138.7,446.1 1137,449.6 1136,449.7 1134.2,448.4 1130.8,450.4 1124.9,457.4 1120.8,459.7 1115.8,461.6 1111.7,465 1110.9,470.2 1112.8,475.4 1114.6,484.6 1113.5,488.6 1116.2,491.4 1117,491.6ZM1140.9,422.5 1140,423.5 1141,426.1 1143.2,426.9 1144.3,429.5 1147.8,431 1150.5,433.2 1153.2,436.4 1156.5,437.8 1161.2,437.3 1164,437.7 1166.3,440.6 1169.6,441.2 1170.4,440.1 1168.7,436.6 1168.8,435.5 1169.6,435 1173.5,434.4 1174.1,433.8 1173.3,431.7 1172.6,431.3 1168.4,431.8 1167.2,433.2 1166.1,433.2 1160.4,426.8 1157.6,426.6 1152.6,425 1145.8,425.5 1145,425 1144,422.3ZM1171.4,507.6 1171.6,506.5 1170.3,504.1 1169.5,504.1 1166.6,505.9 1166.9,508.6 1168.6,509.7 1169.6,509.5ZM1139.2,353.7 1138.1,355.8 1136.9,356.3 1136.4,357.1 1137,361.4 1137.8,362.1 1141.4,361.3 1141.6,358.7 1142.2,357.9 1146.5,357 1148,355.4 1151.4,355.2 1155,352.3 1157.1,348.2 1157.7,341.7 1154.5,339.4 1153.4,339.4 1150.6,347.6 1147.5,350.3 1146.7,352.2ZM1118.2,438.7 1119.1,438 1117.7,436.9 1114.7,437.2 1114,437.9 1115.3,441 1116,441.6 1117.1,441.2ZM1119.7,438 1124.4,441.6 1127.2,439.2 1130.1,441.5 1131,441.5 1132.9,438.1 1131.9,437.1 1128.5,438.9 1127.6,438.7 1126.3,437.1 1121.2,437.1ZM1121,395.4 1123.3,396.6 1123.8,399.7 1126.2,404 1125.3,406.3 1127,409.6 1126.6,413.6 1127.3,414.1 1131.1,414.6 1132.9,409.4 1129.5,403.5 1130.3,399.7 1128.1,394.8 1125,395.1 1124.1,394.4 1124,393.6 1124.7,391.8 1124.1,388.5 1123.4,387.8 1120.8,388.5 1120.3,389.1 1119.6,392.6ZM1119.3,429 1121.7,432.2 1122.5,432 1124.7,428.4 1124.1,424.1 1123.4,423.4 1119.7,424 1119.1,424.7ZM1119.1,411.8 1118.3,410.9 1115.2,411 1113.9,414.2 1110.7,415.4 1103,421.2 1102.8,422 1103.5,424.8 1105.6,427.2 1109.9,428.5 1113.9,427.6 1118.4,420.4 1119.5,416.3ZM1021.9,209.8 1017.9,214.4 1014.7,219.6 1014.9,220.7 1017.1,222.2 1018.2,222 1025.7,213.2 1035.6,206 1035.9,204.9 1035.1,203.3 1034.1,203 1027,206ZM1017.1,233.1 1017.2,232.2 1015.2,225.7 1012.8,224.7 1012,224.8 1011.5,225.7 1012.2,230.2 1014.2,234.9 1015.6,235.2ZM1004.1,446.5 1003.4,445.9 1002.5,446.1 997.3,451.9 994.7,457.2 993.4,463.9 994.1,468.5 996.6,471 999.8,469.7 1000.3,469 1004.1,456.6 1005.3,450.2ZM936.5,191.8 935.7,192.3 935.7,193.2 939.4,197.8 945.5,195.7 945.4,194.7 942.5,191.1ZM939.1,299 937.9,294 937,293.8 934.3,295 934.2,301.3 934.6,302 937,302.9 937.8,302.7ZM922.2,196.9 921.5,197.9 923,203 928.5,218.4 929.8,219 930.4,218.3 933.4,206.4 932.6,200.2 931.8,199.5 930.1,200 929.3,199.7 926.8,195.3ZM827.8,232.7 831.5,240.4 833.9,249.7 831.6,256.6 839.2,268.1 842.6,270.8 843.5,270.9 847,268.1 849.7,263 868.4,244.2 873.4,230.6 878.5,224 878.4,222.6 879.7,218.8 878.5,212.5 879.1,206.3 881.5,194.4 884.1,190.7 882.7,188.7 882.6,187.7 888.2,182.9 888.2,181.6 887.4,181.3 880,181.5 877.2,182.4 876.3,182.2 873.1,178.6 870.9,177.9 870.4,177.2 870.8,175.6 873.4,173 873.3,171.9 870.5,169.1 865.9,167.9 864.5,164.9 861.2,163 855.7,164.2 851.7,168.1 849.7,171.6 848.9,171.9 845.9,171.6 843.6,174.3 842.7,174.3 839.7,172.8 837,176.4 834.6,176 831.1,178.6 827.3,177.2 826.6,177.6 825.3,180.5 820.6,180.5 816.7,184.4 812.9,189.5 813.6,193.9 809.2,199.4 804.6,206.4 809.5,210.5 810,215.8 820.9,219.3 824.2,223.2 826.5,227.9ZM866.1,268.4 863.1,271.1 862.8,271.9 863.6,275 866.1,276.6 874.3,273.9 876,270.2 874.6,267 873.9,266.5ZM650.5,242.5 649.6,246.1 644.6,248.1 644,249 651,256.2 651.1,257.8 650.4,258.5 643.4,259.7 642.8,260.7 643.7,265.1 647.2,267.5 651.5,267.3 652.7,270.4 652,272.4 647.5,274.2 645.3,277.6 646.8,282 651.5,284.4 653.1,287.6 657.9,289.3 659,291.1 655.5,295.6 647.4,302.1 647.4,303.4 648.5,303.7 654.2,300.9 659.3,297.1 664.5,291.9 667.9,286.4 668.8,286.2 670.1,286.6 673.5,285.9 675.8,283.2 682.5,284.5 689.3,284.8 691.3,287.1 694.5,289 697,289 702,296.8 701.5,299 704.2,305.5 707.9,311.7 711.7,316.8 715.5,320.4 714.6,323.7 715.2,327.6 714,340 715.3,345.4 717.8,349.2 719.8,354.4 727.3,360.4 727.3,362.1 728.6,366.7 733.1,375.5 736,379.6 737.2,379.9 739,378.7 739.1,377.9 738.1,375 738.8,374.1 739.9,374.1 745.9,382.9 748.2,387.7 752.1,390.3 757,392.8 761,394.1 765.2,392.9 768.1,393 769.4,394.6 771.7,395.3 773.1,397 774.9,397.8 777.4,400.7 779.6,402.1 780.2,403.7 781.8,405.7 784.4,407.7 791.5,410.5 790.9,415 791.3,420 790.7,420.6 786.4,422.2 785.9,422.9 785.9,427.6 786.8,430 786.5,431.5 789.1,438 795.4,449.3 800,453.9 803.2,455.5 803.7,456.5 803.1,470 797.8,498.6 798.1,505.1 795.3,526.3 796.6,533.6 799.9,536.7 800.7,537 807.3,536.5 807.9,535.8 807.3,533.8 807.9,530.2 809.6,525.6 812.2,522.7 811.2,518.5 812.2,515.4 815.3,510.3 816,505.6 819,503 820.9,498.3 825.8,495.7 827.5,491 832,489.4 834.1,485.4 834.1,483.6 835.8,481.9 839,476.8 840.9,471.7 843.1,468.4 853.3,463.1 856,456.5 857.2,450.3 862.8,440.3 864.1,434.1 855.4,427.8 847.7,425.3 837.7,423.5 837.2,422.5 837.8,420.3 834.5,415 830.3,412.2 825.5,411.8 824.5,409.9 822.3,408.2 822.2,406.5 819.7,402.8 810,401.5 806.1,402.1 802,401.6 800.4,400.9 796.2,403.6 792.9,406.9 790.4,405.3 787.3,404.7 785.3,403.7 782.8,400.6 782,393.4 777.6,392.5 776.8,391.8 776.9,387.9 777.5,386.2 776.4,382.1 775.5,381.8 770.7,382.9 768.7,387 766.8,387.7 764,387.2 761.5,384.4 759.8,377.4 761,372.7 760.6,370.2 761.9,368.4 765.5,366.5 774.9,364.8 781.9,365.5 785.2,374.6 786.1,375 788.1,374.3 788.5,373.7 788.9,369.3 788.2,364.8 787.1,362.3 794.7,354.1 795.4,350 794,347 794.2,346 795.2,345.4 796.7,346 797.5,345.8 798.7,341.7 809.9,332.8 810.9,332.7 813.4,334.1 818.3,330 820,330 821.9,328.9 821.6,326.6 820.9,325.9 818.7,326.8 818.2,328.5 817.2,329.1 811.5,326 811.5,324.1 813.4,321 813.6,318.8 815.4,317.8 824.1,315.5 824.9,315.9 825.1,316.8 822.8,322.9 823.1,323.9 826.2,324.7 830.2,324.5 832.1,322.3 832.2,321.4 827.9,313.1 828,312.2 829.1,310.9 829,309.6 820.9,297.1 819.6,293.3 815.8,285.6 814.5,285.4 810.8,289.1 809.4,289.2 807,286.8 804.5,281.9 798,276 792.7,275.9 791.8,276.7 792.1,279.9 790.3,285 792.7,296.4 792.2,300.9 790.3,304.8 791.4,310.3 790.1,312.1 788.3,311.5 784.6,302 782,299.3 768.5,294.2 767.1,290.7 765.3,288.1 764.8,285 766.5,280.4 772,270.7 775.5,267.2 776.5,266.9 777.2,267.5 778.8,272.8 779.4,273.4 780.3,273.3 781.6,271.8 783.9,272.5 786.5,271 786.5,270.1 781.3,263 778.6,263 777.8,261.9 779,259.5 783,257.7 785.9,255.3 786.6,251.2 785,248.1 786,245.1 784.8,243.1 785.4,241.9 790.1,242.2 791.6,241.1 792.8,241.4 794.8,243.7 796.4,247.8 795.9,248.8 792.6,250.6 793.1,255.5 794.5,255.9 797.5,252.9 798.4,252.6 799.4,253.2 800.1,255.8 797.5,263.5 796.8,264 793.1,264.2 791.6,267.1 791.7,268.1 796.1,269.1 800.8,269.3 806.8,275.7 810.2,277.8 811.3,277.6 814.7,273 810.8,269.3 809.5,266.7 809.5,265.7 810.9,263.8 813.9,264.1 818.1,262.7 819.4,258.3 815.7,253 809.6,250 808.4,248.5 808.2,247.6 809.1,245 808.4,239.5 807,236.9 799.5,229.3 795.3,225.9 788.5,226.9 787.5,226.4 786.6,219.2 785.9,217.4 788.2,215.7 790.7,212.9 790.7,211.6 790.1,211.3 783.8,211.5 779.2,210.9 775.7,208 773,204.7 769.4,204 767.9,204.9 766.9,204.7 765.9,202 764.4,200.7 763.8,201.8 760.4,203.2 760.6,205.7 760,206.4 758.1,207 758,211.4 757.4,212.3 756.4,212.4 751.6,209.9 750.2,206.4 749.4,205.9 748.5,206.4 747.2,210.2 742.8,210.9 742.2,212.1 744.6,214.9 748.6,214.8 752.7,216.6 756.5,212.5 757.5,212.6 758.9,214.1 761.8,213.3 766.2,207.4 767.9,206.3 768.9,207 770.5,212 777.8,216.4 778.1,217.3 777.6,218.2 775.3,218.4 772.2,220.1 771.1,219.5 771,217.9 770.4,217.2 763.8,216.7 763.4,217.4 763.4,225 763.8,225.8 767,227.9 767.7,227.5 770,223.6 770.8,223.2 771.6,223.5 772.8,230.3 775.4,235.5 779.4,239.5 782.1,240.9 782.2,241.9 780.3,246.1 780.2,250.7 778.5,252.4 776.9,252.1 775.2,249.4 769.7,243.9 767.2,234.6 765.9,231.4 765.1,230.9 762.3,232 760.3,237.3 760.7,242 760,242.6 758.7,243 756.5,245.3 756.7,246.2 758.8,248.8 758.4,251.4 752.6,251.7 749.2,250.3 745.6,248.2 745.3,247 746.2,246.2 750.6,246.4 754.7,241.3 753.9,239.3 749.5,236.8 747.2,233.4 746.6,229.9 747.9,220.6 746.9,219.6 743.7,220.5 743,223.1 742.1,223.8 740,223.4 735.2,223.9 731.3,222.1 727.2,223.4 724,227.3 725,230.1 724,232.7 725.4,236.1 729.5,238.4 730,239.1 729.6,240.3 727.4,241.2 727.3,242.4 729.5,244.6 732.5,245.4 734.6,248.4 741.7,248.2 742.3,249.4 741.8,250.9 741.1,251.5 738.6,251.3 734.9,252.4 731.2,251.9 729.7,248.7 726.9,246.1 723.1,243.6 717.6,241.5 714.1,241.9 711.2,239.2 709,238.4 708.1,238.6 706.8,240.4 704.6,240.3 700.8,242.8 696.4,244.1 695.3,245.5 694.4,245.8 689.4,243.6 686.4,241 681.6,239.1 676.2,239.5 667.4,236.6 662.6,233.4 658.2,236.7 653.1,239.2ZM764.3,200.4 765,198.6 763.8,194.3 758.3,193.4 757.4,193.6 757.2,194.7 759.3,198.2 763.6,199.7ZM782.7,188.1 775.5,182.3 772.2,180.3 771,180.7 771.3,185.3 773.4,194 776.3,198.9 777.3,199 780.6,196.4 784.6,191.9 785.9,191.9 786.5,192.8 787.4,196.4 785.4,199.5 785,201.3 782.3,202.6 780.9,206 781.1,206.9 785,208.5 789.1,206.1 794.8,206.5 795.3,205.2 793.1,202.9 792.8,202 794,200.3 797.7,199.7 798.4,199.2 799.1,195 797.9,191.9 798.1,191 804.3,187.1 813.2,180.1 813.5,179.1 812.2,177.9 812.3,176.7 817.5,173.3 820.8,170 820.9,168.9 816.6,165.1 813.8,166.3 812.9,166.2 812.3,165.6 812.1,164.2 811.4,163.8 793.3,164.7 789.2,168.1 787.9,171.1 782.1,170.9 781.5,171.7 781.5,173.7 778.2,174.8 777.8,175.8 780.5,180.1 783.6,180.6 784.1,181.3 784.2,183.1 787.8,185.4 788.2,184.5 795.3,179.2 796.2,179.3 797.4,180.3 797.2,182.7 789.8,186.5 788.5,186.6 787.8,185.8 787.3,186.7 785.1,187.3 784.1,188.4ZM790.8,375.9 791.1,378.8 790.2,379.4 784.8,378.4 780.8,379.8 780.3,380.9 781.5,382.8 785.6,382.5 789.2,383.2 790.4,383.7 791.4,385.2 796.6,387.2 799.6,386.4 801.2,389 806.3,388.9 807.1,388.4 807.2,386.2 806.7,385.4 800.9,385.1 798.6,382.6 796.2,382.4 793,380.5 792.9,379 795,377.8 794.3,374.8 791,375.2ZM736.8,205 736.9,204 736.2,203.4 732.6,204.1 729.2,208.2 729.1,209.2 729.8,209.7 731.8,209.8 734.4,208.2Z"/>
<path fill="#0a3189" d="M686,241.9 688.8,244.4 692.5,246.2 695.6,247.2 696.9,245 701.2,243.8 705,241.2 707.5,241.9 708.8,239.4 710.6,240 713.8,243.1 717.5,242.5 722.5,244.4 726.2,246.9 729,249.4 730,252.8 735,253.5 738.8,252.2 742.5,252.8 743.1,250 745.6,249.4 748.8,251.2 752.5,252.8 757.5,252.8 760,253.8 759.8,250 761.2,248.1 763.1,246.9 761.9,242.5 761.2,237.5 763.1,232.5 765,231.9 766.2,235 767.5,240 768.8,244.4 771.2,246.9 774.4,250 776.2,253.1 778.8,253.8 781.2,251.2 781.2,246.2 782.5,243.1 785,245 783.8,248.1 785.6,251.2 785,255 782.5,256.9 778.1,258.8 776.9,261.2 775,266.2 771.2,270 768.8,275 765.6,280 763.8,285 764.4,288.8 766.2,291.2 767.5,295 771.2,296.2 776.2,298.1 781.2,300 783.8,302.5 785,306.2 786.2,308.8 787.5,312.5 790.6,313.8 792.5,310.6 791.2,305 793.1,301.2 793.8,296.2 792.5,290 791.2,285 793.1,280 792.8,276.9 797.5,276.9 801.2,280 803.8,282.5 806.2,287.5 810,291.2 813.8,287.5 815,286.2 818.8,293.8 820,297.5 825,305 828.1,310 828.1,310.6 826.2,312.5 823.8,314.4 820,315.6 815,316.9 810,319.4 806.2,321.9 804.4,324.4 808.8,321.2 812.5,320.6 810.6,323.5 809.8,326.9 812.5,327.5 816.9,330.2 813.1,333.1 810,330.6 808.8,332.5 806.2,334.4 803.8,336.2 801.2,338.8 797.5,341.2 796.9,345 795,343.8 792.5,346.2 794.4,350 793.8,353.8 790,357.5 787.5,360 785.6,362.5 787.2,365 787.9,369.4 787.5,373.5 786,374 784.8,371.2 783.8,367.5 782.9,364 780,364.4 775,363.8 770,364.4 765,365.6 761.2,367.5 759.4,370 760,372.5 759.4,373.8 758.8,377.5 759.4,381.2 760.6,385 763.1,388.1 766.9,388.8 770,387.5 771.2,383.8 775.6,382.8 776.5,386.2 775.6,388.1 771.9,388.1 769.4,389.4 768.8,391.9 765,391.9 761.2,393.1 757.5,391.9 752.5,389.4 748.8,386.9 746.9,382.5 743.8,377.5 740,372.5 736.2,367.5 733.8,362.5 733.1,361.9 732.5,363.8 734.4,368.8 736.2,373.8 738.1,378.1 736.9,379 734,375 731.5,370.6 729.5,366.2 728.2,361.9 729.4,360.6 728.8,360 725,357.5 720.6,353.8 718.8,348.8 716.2,345 715,340 715.6,333.8 716.2,327.5 715.6,323.8 716.9,320 712.5,316.2 708.8,311.2 705,305 702.5,298.8 703.8,297.5 701.2,293.8 698.8,290 696.9,286.2 695,288.1 691.9,286.2 690,283.8 686,283.8 682.5,283.5 677.5,282.5 675,281.9 673.1,285 670,285.6 671.9,281.2 670.6,280 667.5,285 663.8,291.2 658.8,296.2 653.8,300 648.1,302.8 651.9,300 656.2,296.2 660.6,291.2 658.8,288.5 653.8,286.9 652.5,283.8 647.5,281.2 646.2,277.5 648.1,275 653.1,273.1 653.8,270 652.5,266 647.5,266.5 644.4,264.4 643.8,260.6 647.5,259.8 651.9,259.4 652.5,256.2 648.8,252.5 645,249 650.6,246.9 651.2,243.1 653.8,240 658.8,237.5 662.5,234.4 666.9,237.5 671.2,238.8 676.2,240.6 681.2,240Z"/>
<path fill="#0a3189" d="M725,227.5 727.5,224.4 731.2,223.1 735,225 740,224.4 743.8,225.2 744.4,221.2 746.9,220.6 746.2,225 745.6,230 746.2,233.8 748.8,237.5 753.1,240 753.8,241.2 750,245.6 746.2,245 742.5,246.9 735,247.5 733.1,244.4 730,243.8 728.1,241.9 732.5,240.6 733.1,238.8 730,237.5 726.2,235.6 725,232.5 726.2,230Z"/>
<path fill="#0a3189" d="M757.5,245.6 759.4,243.8 761.9,246.2 760,248.5Z"/>
<path fill="#0a3189" d="M778.1,264.4 780.6,263.8 783.1,267.5 785.6,270.6 783.8,271.5 781.2,269.4 779.8,272.5 778.5,268.8Z"/>
<path fill="#0a3189" d="M793.5,251 795.6,250 796.2,253.1 794,255Z"/>
<path fill="#0a3189" d="M775.6,219.4 780,219.4 777.5,225 776.9,230 780,232.5 781.2,225 781.9,220 785.6,219.4 786.2,225 786.2,228.8 790,227.5 795,226.9 798.8,230 802.5,233.8 806.2,237.5 807.5,240 808.1,245 806.9,248.1 808.8,250.6 811.9,252.5 815,253.8 818.5,258.8 817.5,261.9 813.8,263.1 810,262.5 808.1,266.2 810,270 813.8,273.1 810.6,276.9 807.5,275 803.8,271.2 801.2,268.1 796.2,268.1 792.5,267.5 793.8,265 798.1,265 799.4,261.2 801.2,256.2 800,251.2 797.5,247.5 795.6,243.1 791.9,238.8 790,241.2 785,240.6 780,238.8 776.2,235 773.8,230 773.1,225 773.1,225 772.5,221.2Z"/>
<path fill="#0a3189" d="M778.8,175.6 783.8,174.4 782.5,171.9 788.8,172.5 790,168.8 793.8,165.6 805,165 811.2,164.8 809.4,166.9 813.8,167.5 816.2,166 820,169.4 816.9,172.5 812.5,175 808.8,178.8 812.5,179.4 807.5,183.1 803.8,186.2 800,188.8 796.2,190.6 798.1,195 797.5,198.8 793.1,199.4 791.2,202.5 794.4,205.6 788.8,205 785,207.5 781.9,206.2 783.1,203.1 787.5,201.9 790,198.1 786.2,200 788.8,196.2 787.5,192.5 785.6,188.1 790,187.5 793.8,185.6 798.1,183.8 798.8,180 795.6,177.5 791.2,181.2 787.5,183.8 785,182.5 785.6,179.4 781.2,179.4Z"/>
<path fill="#0a3189" d="M771.9,181.2 775,183.1 778.8,186.2 781.9,188.8 783.1,192.5 780,195.6 776.9,198.1 774.4,193.8 773.1,188.8 772.2,185Z"/>
<path fill="#0a3189" d="M758.1,194.4 763.1,195 764,198.8 760,197.5Z"/>
<path fill="#0a3189" d="M730,208.8 733.1,205 736,204.4 733.8,207.5 731.2,209Z"/>
<path fill="#0a3189" d="M743.1,211.9 748.1,211.2 749.4,206.9 750.6,210.6 755,212.5 752.5,215.6 748.8,213.8 745,214Z"/>
<path fill="#0a3189" d="M761.2,203.8 765,202.5 766,206.2 762.5,206.9Z"/>
<path fill="#0a3189" d="M759,207.5 765,207.8 761.2,212.5 759,213.1Z"/>
<path fill="#0a3189" d="M769.4,205 772.5,205.6 775,208.8 778.8,211.9 783.8,212.5 790,212.2 787.5,215 783.8,216.9 778.8,215.6 775,213.8 771.2,211.2Z"/>
<path fill="#0a3189" d="M764.4,217.5 770,218.1 769.4,222.5 766.9,226.9 764.4,225Z"/>
<path fill="#0a3189" d="M823.8,323.1 825.6,318.1 827.5,314.4 829.4,318.8 831.2,321.9 830,323.5 826.2,323.8Z"/>
<path fill="#0a3189" d="M819.4,327.5 820.6,326.9 821,328.5 819.8,329Z"/>
<path fill="#e8e8e8" d="M768.1,325.6 771.9,322.8 775.6,320.6 779.4,322.8 781.2,326.2 777.5,326.9 773.1,326.2Z"/>
<path fill="#e8e8e8" d="M775,330 777.5,329 778.1,333.8 777.2,339.4 775,339.8Z"/>
<path fill="#e8e8e8" d="M781.9,328.8 786.2,328.1 789.4,331.2 787.5,334.4 784,335.6 783.1,332.5Z"/>
<path fill="#e8e8e8" d="M783.1,338.1 787.5,336.2 791.2,333.8 796.2,332.2 800,330 801.2,330.6 797.5,333.1 792.5,335.2 788.1,338.5 785,339.8Z"/>
<path fill="#b4cdfb" d="M805.6,206.2 810,200 815,193.8 813.8,190 817.5,185 821.2,181.2 826.2,181.9 827.5,178.1 831.2,180 835,176.9 837.5,178.1 840,173.8 843.8,176.2 846.2,172.5 850,173.1 852.5,168.8 856.2,165 861.2,164 863.8,165.6 865,168.8 870,170 872.5,172.5 870,175 868.1,178.1 872.5,179.4 876.2,183.8 880,182.5 887.5,182.2 883.8,185.6 880,187.5 883.1,190.6 880.6,193.8 879.4,200 878.1,206.2 877.5,212.5 878.8,218.8 876.9,223.8 877.5,223.8 872.5,230 870,236.2 867.5,243.8 863.8,247.5 860,251.2 856.2,255 852.5,258.8 848.8,262.5 846.2,267.5 843.1,270 840,267.5 837.5,263.8 835,260 832.5,256.2 835,250 833.8,245 832.5,240 831.2,237.5 828.8,232.5 827.5,227.5 825,222.5 821.2,218.1 815,216.2 810.6,215 810.6,210Z"/>
<path fill="#2272fd" d="M863.8,271.9 866.2,269.4 870,268.8 873.8,267.5 875,270 873.8,273.1 870,274.4 866.2,275.6 864.4,274.4Z"/>
<path fill="#b4cdfb" d="M922.5,197.8 923.9,202.7 927.7,212.7 929.4,218 932.4,206.3 931.7,200.5 929,201.8 926.5,196.2Z"/>
<path fill="#b4cdfb" d="M936.6,192.8 939.8,196.8 944.6,195.3 942.1,192Z"/>
<path fill="#2272fd" d="M769.4,389.4 771.9,388.1 774,388.5 773.8,391.9 772.5,394.4 770,393.8 768.8,391.9Z"/>
<path fill="#b4cdfb" d="M774,387.5 775.9,386.9 775.9,390.6 774,391.2Z"/>
<path fill="#0a3189" d="M772.5,394.4 774,393.1 777.5,393.5 781.2,394 781,396 778.1,396.5 775.6,396.9 773.8,396.2Z"/>
<path fill="#2272fd" d="M775.6,396.9 778.1,396.5 781.2,396 781.9,399.4 780.6,401.5 778.1,400 776.5,398.5Z"/>
<path fill="#f7f7f7" d="M780.6,401.5 782.5,401.9 784.4,404.4 786.9,405.6 790,406.2 792.5,408.1 791.2,409 788.1,407.8 785,406.9 782.5,405 781,403.1Z"/>
<path fill="#f7f7f7" d="M781.2,380.6 785,379.4 788.8,380 792.5,381.5 795,382.8 793.1,383.5 789.4,382.2 785.6,381.5 781.9,381.9Z"/>
<path fill="#0a3189" d="M791.8,375.9 793.8,375.6 794,377.5 792.2,377.8Z"/>
<path fill="#e0243f" d="M791,382.2 793.1,382 795,383.5 794.4,385 791.9,384.4Z"/>
<path fill="#f7f7f7" d="M795,383.5 798.1,383.5 799.4,385 796.9,386.2 794.6,385.2Z"/>
<path fill="#0a3189" d="M801.2,386.2 803.5,386 803.5,388 801.5,388Z"/>
<path fill="#b4cdfb" d="M803.8,386.2 806.2,386.2 806.2,387.9 804,388Z"/>
<path fill="#b4cdfb" d="M793.1,408.8 796.9,404.4 800.6,401.9 801.9,405 802.5,410 807.5,411.9 808.1,417.5 805,420 804.4,424.4 800.6,425 796.9,421.9 792.5,420.6 791.9,415Z"/>
<path fill="#f5b3be" d="M801.2,402.5 806.2,403.1 810,402.5 815,403.1 819.4,403.8 821.2,406.9 820,410 821.9,412.5 818.8,415.6 815,416.2 813.8,419.4 810.6,419.4 808.8,417.5 808.1,412.5 803.1,410 801.9,405.6Z"/>
<path fill="#f5b3be" d="M821.2,408.8 823.8,410.6 825,413.8 824.4,418.1 821.9,419.4 820,416.2 821.9,412.5 820,410Z"/>
<path fill="#b4cdfb" d="M825.6,413.1 830,413.1 830.6,418.1 826.9,418.8 825,416.2Z"/>
<path fill="#f7f7f7" d="M831.2,413.8 833.8,415.6 832.5,418.8 830.6,418.1 830.2,415Z"/>
<path fill="#f5b3be" d="M786.9,423.1 791.9,421.2 795.6,423.1 795,426.9 791.2,429.4 788.1,430.6 786.9,427.5Z"/>
<path fill="#ea6079" d="M787.5,431.2 791.2,429.4 795.6,426.2 798.8,425.6 803.1,426.2 803.8,430 799.4,433.8 798.1,438.1 801.2,441.2 806.2,442.5 806.9,447.5 806.2,453.1 804.4,455 800.6,453.1 796.2,448.8 793.1,443.1 790,437.5Z"/>
<path fill="#ea6079" d="M806.2,420.6 810.6,420 814.4,419.4 817.5,415.6 820.6,416.2 821.2,420 825,420 831.2,419.4 835,417.5 836.9,420.6 835,424.4 840,425 847.5,426.2 855,428.8 860,432.5 863.1,434.4 861.9,440 858.8,445 856.2,450 855,456.2 852.5,462.5 847.5,465 842.5,467.5 840,471.2 838.1,476.2 835,481.2 832.5,483.8 828.8,481.2 826.9,478.8 831.2,475 831.9,470 829.4,466.9 826.9,464.4 825.6,460 823.8,455 820.6,451.2 818.8,446.2 813.8,443.8 810,440.6 805.6,442.5 801.2,440.6 798.1,438.1 800,433.1 803.8,430 805.6,426.2Z"/>
<path fill="#f5b3be" d="M807.5,442.5 810,440.6 813.8,443.8 818.8,446.9 820,451.2 823.8,455 823.1,458.1 819.4,458.1 817.5,461.9 813.1,463.1 810.6,464.4 808.1,460 806.9,453.8 807.5,448.1Z"/>
<path fill="#f5b3be" d="M818.1,458.8 823.1,458.1 825.6,460.6 826.9,465 830,467.5 831.2,472.5 828.1,475 825,471.9 820.6,467.5 818.1,463.8Z"/>
<path fill="#f5b3be" d="M808.8,464.4 812.5,463.1 817.5,462.5 820,467.5 825,472.5 828.1,475 831.2,474.4 827.5,478.8 825,482.5 824.4,487.5 826.2,491.2 825,495 820,497.5 818.1,502.5 815,505 814.4,510 811.2,515 810,518.8 811.2,522.5 808.8,525 806.9,530 806.2,533.8 801.2,533.5 799.8,530 800.2,525 800.2,517.5 801.5,510 801,505 801.9,500 803.1,493.8 803.8,487.5 804.4,482.5 805.6,475 806.9,468.8 807.8,465Z"/>
<path fill="#ea6079" d="M825,483.1 827.5,481.2 831.2,482.8 833.1,485 831.2,488.8 827.5,489.8 824.8,487.5Z"/>
<path fill="#ea6079" d="M804.8,456.2 807.2,457.2 807.8,462.5 806.9,468.8 805.9,475 804.8,482.5 804,487.5 803.2,493.8 802.2,500 801.8,505 802,510 801,517.5 800.6,525 800,530 801.5,533.5 806.2,534 806.9,535.6 800.6,536 797.5,533.1 796.2,526.2 796.9,520 798.1,512.5 799.1,505 798.8,498.8 800.4,491.2 801.6,485 802.9,477.5 804.1,470 804.5,462.5Z"/>
<path fill="#f7f7f7" d="M1000,327.5 1001.2,323.8 1003.8,325 1007.5,327.5 1010,332.5 1013.8,335 1013.1,339.4 1011.9,345 1007.5,345.6 1005,342.5 1002.5,338.8 1000,337.5 998.8,332.5Z"/>
<path fill="#ea6079" d="M970,246.2 971.2,243.8 974.4,243.5 977.5,244.4 982.5,248.1 987.5,253.1 990,256.2 988.8,258.8 983.8,258.8 978.8,256.9 976.2,258.8 977.5,262.5 978.1,266.2 982.5,270 986.2,268.8 988.8,268.1 990,262.5 993.8,260 997.5,257.5 996.2,252.5 995.6,249.4 997.5,248.8 998.1,251.9 1000,255 1003.8,253.1 1007.5,251.2 1011.2,249.4 1015,248.1 1020,247.5 1023.8,246.2 1021.2,241.2 1020.6,240 1025,242.5 1028.8,245 1032.5,248.8 1036.2,250 1035,250 1033.8,242.5 1035,235 1037.5,227.5 1039.8,223.1 1040.6,228.8 1041.2,237.5 1042.8,245 1043.8,248.8 1041.9,253.8 1040.6,257.5 1043.8,257.5 1046.2,252.5 1045.6,247.5 1045,240 1045.6,232.5 1047.5,226.9 1051.2,228.8 1054.4,227.5 1056.2,231.2 1058.1,232.5 1056.9,227.5 1056.2,222.5 1060,220.6 1065,220 1067.5,217.5 1066.9,213.1 1069.4,208.8 1073.8,205 1078.8,203.1 1085,202.2 1090,201.2 1090.6,196.2 1093.1,193.1 1096.2,192.2 1095,195 1098.1,196.2 1098.8,200.6 1102.5,199.4 1106.9,199.4 1109.4,202.5 1109.4,207.5 1106.2,211.9 1102.5,215.6 1098.8,220 1099.4,223.1 1103.8,221.2 1105.6,219.4 1108.8,221.2 1113.8,220 1117.5,221.2 1118.8,223.8 1125,224.4 1127.5,221.2 1131.2,221.2 1135,223.8 1136.2,230 1137.5,235 1140,237.5 1142.5,233.8 1147.5,233.1 1153.8,232.5 1155.6,230 1154.4,226.9 1155.6,226.2 1161.2,227.5 1167.5,229.4 1170,230.6 1172.5,235 1175,237.5 1180,236.2 1185,236.9 1186.9,240 1188.1,243.1 1195,244.4 1200,244.4 1203.1,247.5 1205.6,246.2 1206.2,242.5 1212.5,242.5 1216.2,245 1220,248.8 1225,253.1 1230,256.2 1236.2,260.6 1234.4,263.8 1231.9,267.5 1228.8,265 1225,261.2 1221.9,260 1220.6,264.4 1216.9,266.2 1216.2,269.4 1218.8,271.2 1220,275 1216.2,275.6 1211.2,278.8 1211.2,278.8 1206.2,281.9 1202.5,283.1 1198.8,282.5 1195,283.8 1193.1,287.5 1192.5,292.5 1191.9,297.5 1190.6,302.5 1188.8,305 1186.2,309.4 1183.1,312.5 1182.5,308.8 1181.9,302.5 1182.5,296.9 1186.2,292.5 1188.8,288.8 1191.2,285.6 1190,281.2 1193.8,276.2 1192.2,275 1187.5,278.8 1182.5,280.6 1178.8,286.2 1176.2,288.8 1173.8,288.1 1171.2,286.2 1168.8,285.6 1166.2,287.5 1160,288.8 1156.2,291.9 1152.5,296.9 1148.8,301.2 1146.2,303.1 1147.5,305.6 1151.2,307.5 1154.4,306.2 1155,311.2 1155,316.2 1154.4,321.2 1152.5,325 1148.8,329.4 1145,333.8 1141.9,335.6 1141.2,335.6 1140,331.2 1143.8,327.5 1145.6,322.5 1142.5,321.9 1138.8,320 1135,318.1 1133.1,314.4 1131.2,309.4 1127.5,308.1 1123.8,308.8 1121.2,311.2 1120,317.5 1116.2,318.8 1112.5,317.5 1107.5,318.8 1102.5,317.5 1097.5,315.6 1093.1,314.4 1088.8,311.9 1085.6,313.1 1085,317.5 1080,315.6 1073.8,316.2 1069.4,318.8 1066.9,320.6 1065,318.8 1061.2,315.6 1057.5,313.8 1053.1,311.2 1051.2,306.9 1048.8,303.8 1045,306.2 1041.2,304.4 1038.1,300.6 1035,300.6 1028.8,303.8 1023.8,305 1022.5,308.8 1020.6,313.1 1015,313.8 1010,313.1 1013.8,312.5 1006.9,310.6 1002.5,312.5 1000,315.6 998.8,320 1001.2,323.8 1000,327.5 998.8,332.5 1000,337.5 995,335.6 990,333.8 985,331.2 986.2,327.5 988.8,323.8 986.9,319.4 982.5,315 977.5,311.9 974.4,306.2 972.5,301.2 971.2,298.8 970,295 968.8,290 969.4,285 970.6,280 973.1,275 971.9,268.1 972.5,262.5 971.9,256.2 972.5,251.9 970.6,249.4Z"/>
<path fill="#e8e8e8" d="M1093.8,313.5 1097.5,310 1101.2,305 1103.8,300 1105,299.4 1104.4,303.1 1102.2,308.1 1098.5,312.8 1095.2,315.2Z"/>
<path fill="#ea6079" d="M1015.6,220 1018.8,215 1022.5,210.6 1027.5,206.9 1034.4,204 1035,205.2 1030,208.8 1025,212.5 1021.2,216.9 1017.5,221.2Z"/>
<path fill="#ea6079" d="M1012.5,225.6 1014.4,226.2 1016.2,232.5 1015,234.4 1013.1,230Z"/>
<path fill="#f7f7f7" d="M1154.4,306.9 1156.2,307.5 1156.9,313.8 1158.1,320 1159.4,326.2 1158.1,329.4 1156.2,325 1155,318.8 1154.4,312.5Z"/>
<path fill="#b4cdfb" d="M930.6,288.8 931.2,280 933.1,275 937.5,272.5 940,266.2 943.8,260 945.6,253.8 947.5,247.5 951.2,242.5 956.2,238.8 961.2,236.2 966.2,235 970,237.5 971.2,240.6 967.5,242.5 965,240.6 963.1,243.8 960,246.9 956.2,246.9 952.5,249.4 950,253.8 947.5,260 945,265 942.5,271.2 941.2,277.5 940.6,285 938.8,289.4 934.4,290.6Z"/>
<path fill="#2272fd" d="M956.2,247.2 958.1,249.4 959.4,253.8 960,258.1 959.4,261.2 956.2,263.8 954.4,268.1 951.9,271.9 950,276.2 949.8,281.2 951.2,285 949.4,290 948.8,295 946.2,297.5 943.1,296.9 941.9,292.5 941.2,286.2 941.9,280 942.5,272.5 945,266.2 947.5,260.6 950,254.4 952.5,250Z"/>
<path fill="#2272fd" d="M965,241.9 966.9,240.6 970,242.5 968.8,246.2 970.6,250 971.2,256.2 971.9,262.5 971.2,267.5 972.5,272.5 973.1,275 970,280 965,282.5 960.6,283.8 958.1,281.2 957.5,276.2 960,272.5 961.9,267.5 963.1,262.5 961.2,260 960.6,255 960,250 961.9,248.1 964.4,245.6Z"/>
<path fill="#2272fd" d="M935,295.6 937.2,294.8 938.1,298.8 937.2,301.9 935.2,301.2Z"/>
<path fill="#b4cdfb" d="M960.6,288.1 967.5,287.5 968.8,290.6 968.1,295 968.8,298.8 964.4,301.9 958.1,302.5 956.9,298.8 958.1,295 961.2,292.5Z"/>
<path fill="#2272fd" d="M912.6,292.2 912.6,297.6 915.2,305.2 916.3,308.3 913.2,310.4 913.9,314.4 918.1,315.3 922.3,314.2 923.3,310 921.1,304.2 918.6,299.8 918.2,294.6 916.1,294 915.3,290.4Z"/>
<path fill="#b4cdfb" d="M904.4,308.8 908.1,305.6 910.6,305 911.2,307.5 909.4,310.6 905.6,311.9Z"/>
<path fill="#2272fd" d="M914.4,321.9 920,320.6 923.8,317.5 926.2,315 930,318.1 933.8,320.6 932.5,325 931.9,328.8 933.1,332.5 930,334.8 925,334 921.2,333.8 920.6,329.4 919.4,325.6 916.2,323.1Z"/>
<path fill="#2272fd" d="M907.5,335 912.5,333.8 918.8,334.8 925,335.6 922.5,339.4 920.6,343.8 920,347.5 916.9,349.4 912.5,350.6 910.6,348.8 910.6,345 910,338.8Z"/>
<path fill="#b4cdfb" d="M907.5,338.1 910,338.8 910.6,345 910.2,348.8 908.1,348.1Z"/>
<path fill="#b4cdfb" d="M927.5,313.8 932.5,310.6 933.1,320 930,318.1 926.9,315.6Z"/>
<path fill="#b4cdfb" d="M932.5,310.6 935.6,307.5 940,305.6 943.8,306.9 945,311.2 945.6,315.6 943.8,319.4 945,323.1 940,324.4 935.6,323.1 933.1,320Z"/>
<path fill="#b4cdfb" d="M933.8,324.4 940,324.4 945,323.1 950,322.8 949.4,325.6 943.8,326.9 938.8,326.2 934.4,327.2Z"/>
<path fill="#b4cdfb" d="M933.8,327.8 938.8,326.2 944,326.9 946.2,330 945,332.2 947.8,336 950.2,339.4 952.5,343.1 951,345.6 947.5,343.1 944,338.8 940.6,334.8 937.5,332.2 934.4,330.6Z"/>
<path fill="#b4cdfb" d="M935.6,336.9 938.1,336.9 938.1,340.2 936,340.2Z"/>
<path fill="#b4cdfb" d="M945,347.8 948.1,347.5 947.5,350 945.6,349.8Z"/>
<path fill="#b4cdfb" d="M946.9,305.6 952.5,304.4 958.1,305.6 960,309.4 960,313.8 958.1,317.5 952.5,316.9 948.1,315.6 946.2,311.2Z"/>
<path fill="#b4cdfb" d="M944.4,315.6 948.1,315.6 951.9,317.2 950,319.8 945.6,319.4Z"/>
<path fill="#f5b3be" d="M951.2,319.4 952.5,317.2 958.1,317.8 957.5,320.6 953.1,321.5Z"/>
<path fill="#f5b3be" d="M949.8,322.8 953.1,321.8 957.5,320.9 958.1,323.1 955.6,326.2 951.2,326.9 949.4,325Z"/>
<path fill="#f5b3be" d="M958.1,322.8 961.2,320.6 966.2,321.2 970,324.4 971.2,327.8 968.1,329.4 963.1,330.6 959.4,329.4 956.9,326.2Z"/>
<path fill="#f5b3be" d="M946.9,327.2 951.2,327 956.9,326.9 959.4,329.8 958.1,332.5 957.5,336.2 955,338.1 952.5,335 950,331.9 947.5,329.4Z"/>
<path fill="#f5b3be" d="M959.4,330 963.8,331 968.1,330 968.8,333.1 965,335.6 960,335 958.1,332.5Z"/>
<path fill="#b4cdfb" d="M954.4,338.8 958.1,336.2 962.5,336 965,336.9 961.2,338.8 959.4,341.9 960.6,345 961.9,348.8 960,350 957.5,346.9 955.6,343.1Z"/>
<path fill="#ea6079" d="M961.9,306.9 965,302.5 969.4,298.8 972.5,301.2 974.4,305.6 972.5,310 968.8,311.9 964.4,310.6Z"/>
<path fill="#b4cdfb" d="M961.2,311.9 965,311.2 971.2,311.2 974.4,306.2 977.5,311.9 982.5,315 986.9,319.4 986.2,323.1 982.5,325 980,328.1 977.5,327.5 975,325 971.2,323.1 970,324.4 966.9,320.6 963.1,319.4 960,316.9 960,313.8Z"/>
<path fill="#f5b3be" d="M966.5,343.1 970,341 977.5,340.2 985,340 991.2,340.5 995.6,341.9 996.2,345 993.8,347.2 989.4,348.8 983.8,348 980,350 975,350.2 970,349.8 966.8,348Z"/>
<path fill="#f5b3be" d="M963.8,336.9 966.5,336.5 966.9,339 964.4,339.4Z"/>
<path fill="#f7f7f7" d="M988.8,336.9 995,335.6 998.8,338.1 997.5,340 991.9,340.2Z"/>
<path fill="#ea6079" d="M997.5,340.2 1001.2,340 1003.1,343.1 1000,344 997.8,342.5Z"/>
<path fill="#f7f7f7" d="M1000,337.5 1006.2,338.8 1010,342.5 1007.5,345 1003.1,343.1 1001.2,340Z"/>
<path fill="#ea6079" d="M982,350.9 981.7,355.8 984.3,358.1 988.5,355.4 991.3,351.2 988.9,348.8Z"/>
<path fill="#2272fd" d="M978.2,362.3 978.5,365 980.7,366.7 982.9,363.5 985.7,360.9 986.3,357.8 981,359.6Z"/>
<path fill="#f5b3be" d="M983.1,358.8 987.5,357.5 988.8,360.6 986.2,363.8 983.1,363.5 985.2,360.6Z"/>
<path fill="#f5b3be" d="M988.8,351.2 993.8,348.8 997.5,351.9 998.1,356.2 1000.6,361.2 997.5,365 993.8,363.1 990,360 987.5,356.2Z"/>
<path fill="#f5b3be" d="M997.5,345 1002.5,345 1007.5,347.5 1010.6,346.9 1016.2,348.1 1022.5,350 1024.4,355 1023.8,360 1025.6,365 1025,370 1020,371.9 1015,370 1010,368.8 1006.2,365 1002.5,361.2 1000,356.2 998.1,351.2Z"/>
<path fill="#f5b3be" d="M1010,313.1 1015,313.8 1020.6,313.1 1022.5,308.8 1023.8,305 1028.8,303.8 1035,300.6 1038.1,300.6 1041.2,304.4 1045,306.2 1048.8,303.8 1051.2,306.9 1053.1,311.2 1057.5,313.8 1061.2,315.6 1065,318.8 1066.9,320.6 1063.8,323.8 1060,325.6 1058.1,329.4 1056.2,332.5 1053.8,335.6 1048.8,336.2 1043.8,336.9 1040,337.5 1037.5,336.2 1035,336.9 1031.9,335 1028.8,333.1 1023.8,331.5 1018.8,330 1015,330 1015,330 1013.8,335 1010,332.5 1007.5,327.5 1003.8,325 1001.2,323.8 998.8,320 1000,315.6 1002.5,312.5 1006.9,310.6 1013.8,312.5Z"/>
<path fill="#e0243f" d="M1015,330 1018.8,330 1023.8,331.5 1028.8,333.1 1031.9,335 1035,337.5 1040,337.8 1039.4,341.2 1035.6,341.9 1032.5,345 1030,342.5 1026.2,338.8 1022.5,336.2 1017.5,335 1013.8,334.4 1011.2,332.5Z"/>
<path fill="#e0243f" d="M1011.2,340 1015,338.1 1018.8,337.5 1022.5,338.8 1027.5,341.9 1031.2,345 1028.8,350 1025,351.2 1021.2,348.1 1016.2,346.9 1011.9,345.6Z"/>
<path fill="#e0243f" d="M1040,338.1 1043.8,336.9 1048.8,336.2 1053.8,336 1052.5,338.8 1047.5,340.6 1042.5,341.9 1039.4,341.2Z"/>
<path fill="#e0243f" d="M1036.2,342.5 1039.4,341.9 1042.5,342.5 1045.6,345 1045,348.1 1041.2,348.1 1038.1,346.2 1035.6,345Z"/>
<path fill="#f5b3be" d="M1023.8,353.8 1028.8,351.2 1032.5,347.5 1036.2,348.8 1042.5,349.4 1045,351.9 1040,355 1038.8,360 1035,363.8 1028.8,366.2 1023.8,365.6 1022.5,360Z"/>
<path fill="#e0243f" d="M1069.4,318.8 1073.8,316.2 1080,315.6 1085,317.5 1085.6,313.1 1088.8,311.9 1093.1,314.4 1097.5,315.6 1102.5,317.5 1107.5,318.8 1112.5,317.5 1114.4,321.2 1118.8,323.1 1120,325 1116.2,326.9 1112.5,328.1 1110,331.2 1106.2,333.8 1102.5,336.2 1097.5,338.1 1092.5,337.5 1087.5,335 1082.5,333.8 1077.5,331.2 1073.1,329.4 1071.9,325 1071.2,321.9Z"/>
<path fill="#e0243f" d="M1066.9,320.6 1069.4,318.8 1071.2,321.9 1071.9,325 1073.1,329.4 1077.5,331.2 1082.5,333.8 1087.5,335 1092.5,337.5 1097.5,338.1 1102.5,336.2 1106.2,333.8 1110,331.2 1112.5,328.1 1116.2,326.9 1120,325 1118.8,323.1 1114.4,321.2 1112.5,317.5 1116.2,318.8 1120,317.5 1121.2,311.2 1123.8,308.8 1127.5,308.1 1131.2,309.4 1133.1,314.4 1135,318.1 1138.8,320 1142.5,321.9 1145.6,322.5 1143.8,327.5 1140,331.2 1141.2,335.6 1137.5,338.1 1133.8,340.6 1130,343.8 1126.2,345 1123.1,341.2 1120,343.8 1118.1,346.2 1120,350 1122.5,351.2 1121.2,352.5 1120,356.2 1121.9,360 1123.8,365 1123.1,369.4 1120,373.1 1116.2,376.2 1112.5,378.8 1107.5,380.6 1102.5,381.2 1098.8,380 1096.2,380.6 1093.1,381.2 1089.4,383.1 1088.8,380 1086.2,376.2 1085.6,371.9 1083.8,370 1082.5,366.9 1078.8,367.5 1076.2,370 1073.8,369.4 1069.4,369.4 1066.9,369.4 1062.5,366.9 1057.5,364.4 1055,364.4 1052.5,360 1053.8,356.9 1054.4,353.1 1051.2,351.9 1047.5,350 1045.6,348.1 1045.6,345 1048.8,341.2 1053.1,338.8 1053.8,335.6 1056.2,332.5 1058.1,329.4 1060,325.6 1063.8,323.8Z"/>
<path fill="#e0243f" d="M1025.6,370 1030,368.1 1035,365.6 1038.8,361.9 1040,356.9 1045,354.4 1045.6,357.5 1045,362.5 1042.5,366.9 1040,370 1037.5,372.5 1038.8,376.2 1035,375 1031.2,373.8 1026.2,374.4Z"/>
<path fill="#2272fd" d="M1045.6,351.9 1050,351.2 1054.4,353.1 1053.8,356.9 1052.5,360 1055,364.4 1060,366.9 1065,369.4 1068.1,371.2 1069.4,373.8 1073.8,372.5 1076.2,370 1078.8,367.5 1082.5,366.9 1083.8,370 1081.2,373.1 1078.8,376.2 1076.9,378.8 1075,377.5 1074.4,374.4 1071.2,375.6 1068.8,377.5 1068.1,380 1066.2,383.1 1062.5,386.9 1058.8,390.6 1056.2,393.8 1054.4,398.8 1052.5,403.8 1050.6,406.2 1048.8,402.5 1046.9,397.5 1045,392.5 1043.1,387.5 1041.9,382.5 1040,380 1037.5,381.9 1036.2,378.8 1038.8,376.2 1037.5,372.5 1040.6,369.4 1043.8,366.2 1046.2,362.5 1046.9,357.5Z"/>
<path fill="#e0243f" d="M1055,364.4 1057.5,364.4 1062.5,366.9 1066.9,369.4 1067.5,371.2 1065,369.8 1060,367.2 1055.6,365.6Z"/>
<path fill="#f7f7f7" d="M1069.4,369.6 1073.8,369.6 1074,372.2 1070,372.5Z"/>
<path fill="#f7f7f7" d="M1069.4,374.4 1073.8,372.8 1074.8,377.5 1073.1,380.6 1069.8,379.8Z"/>
<path fill="#ea6079" d="M1068.8,381.9 1072.5,382.5 1075.6,385 1078.1,390 1075,389.4 1071.2,387.5 1069.4,385Z"/>
<path fill="#ea6079" d="M1054.4,405.6 1056.2,405 1057.5,408.1 1056.2,410 1054.8,408.8Z"/>
<path fill="#e0243f" d="M1076.9,378.8 1078.8,376.2 1081.2,373.1 1083.8,370 1085.6,371.9 1086.2,376.2 1088.8,380 1087.5,383.1 1085,385 1085.6,388.8 1086.2,393.8 1086.9,398.8 1085.6,401.2 1084.4,396.2 1083.1,391.2 1081.2,390 1079.4,386.2 1078.1,382.5Z"/>
<path fill="#f5b3be" d="M1085,386.2 1088.1,384.4 1091.2,386.2 1095,389.4 1093.8,392.5 1090,393.8 1088.1,396.2 1086.9,400 1087.5,405 1088.5,408.8 1086.9,408.1 1085.6,402.5 1085,396.2 1085.6,391.2Z"/>
<path fill="#e0243f" d="M1089.4,383.1 1092.5,382.5 1095,385.6 1096.9,389.4 1098.8,392.5 1098.1,395 1095.6,391.2 1093.1,388.1 1090.6,386.2Z"/>
<path fill="#b4cdfb" d="M1093.1,381.2 1097.5,381.9 1100,385 1098.1,388.1 1100,392.5 1101.9,396.9 1101.2,400.6 1098.1,403.1 1100,398.8 1099.4,394.4 1096.9,390 1095,385.6Z"/>
<path fill="#ea6079" d="M1092.5,396.9 1096.2,395.6 1099.4,397.5 1098.8,401.2 1095.6,403.1 1093.1,401.2Z"/>
<path fill="#e0243f" d="M1103.1,386.2 1105.6,386 1106,387.8 1103.8,388.1Z"/>
<path fill="#b4cdfb" d="M1121.2,389.4 1123.1,388.8 1123.8,391.9 1121.9,395 1120.6,392.5Z"/>
<path fill="#e0243f" d="M1130,342.5 1135,340 1136.2,341.9 1134.4,345.6 1131.9,347.5 1130.2,346.2Z"/>
<path fill="#b4cdfb" d="M1131.9,348.1 1135,347.5 1135.6,351.9 1133.8,353.8 1131.9,351.9Z"/>
<path fill="#2272fd" d="M1156.3,331 1157,336.6 1160.8,338.1 1163.1,334.3 1158.8,329.3Z"/>
<path fill="#2272fd" d="M1154,340.3 1152.9,344.8 1151.4,348.4 1148.2,350.9 1147.4,354.4 1150.8,354.4 1154.2,351.6 1156.2,347.7 1156.9,342.2Z"/>
<path fill="#2272fd" d="M1139.5,354.7 1140.4,357.2 1146.2,356.1 1145.3,353.5Z"/>
<path fill="#2272fd" d="M1137.4,357.1 1137.9,361.1 1140.7,360.6 1140.4,356.8Z"/>
<path fill="#f7f7f7" d="M1124.4,396.2 1127.5,395.6 1129.4,400 1128.1,403.8 1126.2,402.5 1124.8,399.4Z"/>
<path fill="#f7f7f7" d="M1126.2,406.2 1129.4,405 1131.9,409.4 1130.6,413.8 1127.5,413.1 1128.1,409.4Z"/>
<path fill="#b4cdfb" d="M981.2,365 985,362.5 990,360 995,362.5 1000,365 1002.5,365 1005,370 1003.8,373.8 1006.2,377.5 1011.2,378.8 1014.4,381.2 1012.5,385 1008.8,386.9 1005,390 1000,393.1 996.2,394.4 993.1,390 990,385 986.2,378.8 983.8,372.5 981.9,367.5Z"/>
<path fill="#ea6079" d="M993.1,393.1 996.2,395 1000.6,393.8 1005,390.6 1008.8,390 1008.1,391.9 1003.8,394.4 999.4,396.9 995.6,398.8 993.8,396.2Z"/>
<path fill="#f5b3be" d="M1008.8,386.9 1012.8,385 1014.8,381.2 1016.9,376.9 1019.4,378.8 1018.8,383.8 1015.6,388.1 1011.2,390.6 1008.8,390Z"/>
<path fill="#f7f7f7" d="M1006.2,377.5 1011.2,378.8 1014.4,381.2 1015.6,378.1 1011.2,376.9Z"/>
<path fill="#b4cdfb" d="M903.8,365 906.2,360 910,356.2 915,355 920,354.4 919.4,358.8 915,362.5 908.8,366.2 905,368.8 903.8,369.4Z"/>
<path fill="#f7f7f7" d="M894.4,381.2 898.8,372.5 903.8,369.4 908.8,366.5 909.4,373.1 902.5,375 900,378.8 896.2,381.9Z"/>
<path fill="#e0243f" d="M894.4,383.1 900,380.6 903.1,375.6 910,372.5 910.6,380 911.2,387.5 911.9,392.5 905,393.1 900,391.9 895,390Z"/>
<path fill="#f5b3be" d="M920.6,353.8 927.5,351.2 934.4,351.2 935,357.5 937.5,361.2 939.4,365 940,370 941.2,375.6 941.2,379.4 935,381.2 930,385 927.5,386.2 921.2,381.2 916.2,377.5 910.6,373.1 909,369.4 909,366.2 915,362.5 919.4,358.8Z"/>
<path fill="#b4cdfb" d="M935,350.6 938.1,350.6 938.8,356.2 937.5,360 935.6,357.5Z"/>
<path fill="#ea6079" d="M911.2,376.2 916.2,378.1 921.2,381.9 926.9,386.2 926.9,391.9 921.2,393.8 917.5,395 915,398.8 911.9,401.9 908.8,398.8 905,395 903.1,393.8 911.9,392.8 911.2,387.5Z"/>
<path fill="#ea6079" d="M928.1,386.9 935,381.9 941.9,380 946.2,381.2 948.1,385.6 945.6,390 943.8,395 938.8,397.5 933.8,396.2 930,396.9 927.5,395 928.1,391.9Z"/>
<path fill="#f5b3be" d="M939.4,361.2 945,360.6 951.2,363.8 956.2,362.5 962.5,363.1 962.5,381.2 960,384.4 953.8,382.5 946.2,380.6 941.9,379.4 940,375.6 940,368.8Z"/>
<path fill="#ea6079" d="M962.5,363.1 965,363.8 972.5,364.4 978.1,364.4 978.8,371.2 980,377.5 981.2,380 963.1,380.6Z"/>
<path fill="#ea6079" d="M961.9,381.2 981.9,380.6 983.1,385 983.8,390 981.2,395 978.8,400 977.5,403.8 978.8,408.8 980,413.1 975,413.8 967.5,413.1 963.8,410 961.2,406.2 957.5,403.8 959.4,396.2 961.2,390 960.6,385Z"/>
<path fill="#f5b3be" d="M948.1,385 950,382.5 955,383.1 960,385 961.2,390 959.4,396.2 957.5,401.2 953.8,403.8 949.4,405 946.2,402.5 945,397.5 944.4,394.4 946.2,390Z"/>
<path fill="#f5b3be" d="M927.5,398.8 930,397.2 933.8,396.9 938.8,397.8 943.8,396.9 945,401.2 943.1,405 940,408.8 936.2,411.9 932.5,413.1 930,410.6 926.9,410 926.2,405Z"/>
<path fill="#ea6079" d="M893.8,391.2 898.8,391.9 903.1,394.4 902.5,397.5 898.8,397.8 895,396.2 893.1,394.4Z"/>
<path fill="#e0243f" d="M898.1,400.6 901.9,400 906.2,401.2 908.1,405 906.9,407.5 903.8,405 900.6,403.8 898.5,402.5Z"/>
<path fill="#ea6079" d="M894,396.9 898.8,398.1 902.2,397.8 901.9,400.2 898.1,400.6 895.6,399.4Z"/>
<path fill="#ea6079" d="M900,404.4 903.1,405.6 906.9,408.1 909.4,412.5 906.9,413.1 903.8,409.4 900.6,406.9Z"/>
<path fill="#f5b3be" d="M909.4,405 913.8,404.4 916.9,406.2 916.9,411.9 911.2,413.1 909.4,410.6Z"/>
<path fill="#f5b3be" d="M913.8,398.8 917.5,395.6 922.5,394.4 926.2,396.9 925.6,400.6 921.2,401.9 916.9,401.9 914.4,401.9Z"/>
<path fill="#f5b3be" d="M917.5,402.5 921.2,402.2 921.9,407.5 921.2,411.9 917.5,411.2Z"/>
<path fill="#f5b3be" d="M922.5,401.2 926.2,400.6 926.9,410 923.1,411Z"/>
<path fill="#ea6079" d="M943.8,405.6 946.2,403.8 948.1,406.2 946.9,410 948.1,413.8 947.5,417.5 942.5,416.9 938.8,415.6 936.9,412.5 940,409.4Z"/>
<path fill="#ea6079" d="M948.1,410 952.5,407.5 957.5,403.8 961.2,406.2 965,410 967.5,413.1 962.5,414.4 957.5,413.8 952.5,414 949.4,414.8Z"/>
<path fill="#f5b3be" d="M977.5,403.8 981.2,395.6 983.8,390.6 987.5,393.8 991.2,398.8 995,402.5 998.8,405 1002.5,406.2 998.8,410 993.8,413.1 988.8,414.4 983.8,414.4 980,412.5 978.8,408.1Z"/>
<path fill="#ea6079" d="M983.8,390 986.2,389.4 990,394.4 993.8,398.8 992.5,400 988.8,396.2Z"/>
<path fill="#ea6079" d="M993.8,403.8 998.8,405 1003.1,402.5 1006,401.2 1005,406.2 1002.5,411.2 998.8,415 995,418.8 991.9,421.9 989.4,423.8 988.8,418.8 991.9,415 996.2,411.9 1000,408.1 1003.1,406.5Z"/>
<path fill="#f5b3be" d="M980,415 984.4,415 988.8,415 988.8,419.4 989.4,423.8 986.2,427.5 982.5,425 978.8,422.5 979.4,417.5Z"/>
<path fill="#f5b3be" d="M973.1,415 978.8,415 978.8,420 976.2,422.5 973.1,421.9Z"/>
<path fill="#e0243f" d="M950,415 953.8,414.4 958.1,414 962.5,414.4 967.5,414.4 971.9,415 971.9,420 970.6,423.8 968.8,427.5 969.4,432.5 970,436.9 967.5,438.8 966.2,442.5 963.8,443.1 961.2,440.6 957.5,440 956.2,436.2 951.2,435.6 948.8,431.2 945,430.6 948.1,426.2 950,422.5 950.6,418.8Z"/>
<path fill="#e0243f" d="M945,420 949.4,418.8 950,422.5 948.1,426.2 945,430 941.2,429.4 940,427.5 944.4,425Z"/>
<path fill="#ea6079" d="M936.9,420 940,418.8 944.4,420.6 943.8,424.4 940,426.2 937.5,425 936.2,422.5Z"/>
<path fill="#ea6079" d="M972.5,425 976.9,423.8 982.5,425.6 986.2,428.1 986.9,433.8 987.5,440 983.8,441.9 978.8,440.6 975,438.8 972.5,435 971.9,430Z"/>
<path fill="#ea6079" d="M943.8,433.1 948.1,432.5 951.2,436.2 956.2,436.9 957.5,441.2 956.9,445.6 960,445 958.1,450 957.5,454.4 952.5,454.4 947.5,453.1 942.5,452.5 943.1,447.5 945,442.5 944.4,437.5Z"/>
<path fill="#ea6079" d="M942.5,453.8 947.5,453.5 952.5,454.8 955.6,455.6 955,462.5 954.4,468.8 955,475 952.5,476.9 950,476.2 948.1,470 946.2,463.8 944.4,458.8Z"/>
<path fill="#b4cdfb" d="M956.2,457.5 960,456.9 963.8,460 967.5,463.8 966.2,467.5 962.5,470.6 958.8,471.9 955.6,471.9 955.6,465Z"/>
<path fill="#ea6079" d="M950.6,477.5 955,476.2 955.6,472.5 959.4,472.2 963.1,471 966.9,468.1 970,465 972.5,468.8 973.1,473.1 975,473.8 974.4,476.9 971.9,480 969.4,483.8 965,486.9 960,488.1 955,489.4 952.5,487.5 951.5,482.5Z"/>
<path fill="#f5b3be" d="M966.9,476.2 969.4,475.6 970.2,478.1 968.1,480 966.5,478.8Z"/>
<path fill="#f5b3be" d="M966.2,454.4 970,451.9 974.4,453.1 976.2,456.9 975,461.2 971.2,463.8 968.1,462.5 965.6,458.1Z"/>
<path fill="#f5b3be" d="M958.1,447.5 961.2,445.6 966.2,445 969.4,441.9 974.4,440.6 976.2,443.8 975,448.1 971.2,450 967.5,453.1 963.8,455 960,454.4 957.8,451.9Z"/>
<path fill="#f5b3be" d="M976.9,446.2 981.2,443.8 987.5,443.1 988.8,447.5 986.2,453.1 982.5,457.5 980,461.2 981.2,466.2 978.8,468.8 975,469.4 973.8,465 976.2,461.2 977.5,456.9 975.6,452.5 978.1,450Z"/>
<path fill="#f5b3be" d="M976.5,443.8 979.4,443.8 980,450.6 977.5,451.2Z"/>
<path fill="#f5b3be" d="M994.4,463.8 995.6,457.5 998.1,452.5 1001.2,449.4 1003.1,446.9 1004.4,450 1003.1,456.2 1001.2,462.5 999.4,468.8 996.9,470 995,468.1Z"/>
<path fill="#ea6079" d="M1080.6,412.5 1083.1,413.1 1087.5,418.8 1091.9,424.4 1096.2,428.1 1096.9,430.6 1094.4,431.9 1091.2,428.1 1086.9,422.5 1083.1,416.9Z"/>
<path fill="#ea6079" d="M1089.4,411.9 1092.5,411.5 1093.5,415.6 1091.9,418.1 1090,415Z"/>
<path fill="#ea6079" d="M1103.8,421.9 1107.5,419.4 1111.2,416.2 1115,415 1115.6,411.9 1118.1,411.9 1118.5,416.2 1117.5,420 1115,423.8 1113.1,426.9 1110,427.5 1106.2,426.5 1104.4,424.4Z"/>
<path fill="#ea6079" d="M1098.8,433.8 1101.9,434.4 1105.6,436 1109.4,436.5 1108.1,437.5 1103.8,436.9 1100,435.6Z"/>
<path fill="#ea6079" d="M1115,438.1 1117.5,437.9 1116.2,440.6Z"/>
<path fill="#ea6079" d="M1121.2,438.1 1126.2,438.1 1124.4,440.6Z"/>
<path fill="#ea6079" d="M1129.4,439.8 1131.9,438.1 1130.6,440.6Z"/>
<path fill="#f7f7f7" d="M1120,425 1123.1,424.4 1123.8,428.1 1121.9,431.2 1120.2,428.8Z"/>
<path fill="#ea6079" d="M1144.4,426.9 1148.1,426.2 1152.5,426 1156.2,426.9 1156.2,436.2 1153.8,435.6 1151.2,432.5 1148.1,430 1145,428.8Z"/>
<path fill="#ea6079" d="M1141,423.5 1143.5,423.1 1144,425.2 1141.9,425.6Z"/>
<path fill="#e0243f" d="M1156.5,427.5 1160,427.8 1163.1,431.2 1165.6,434.4 1168.1,437.5 1169.4,440.2 1166.9,439.8 1165,436.9 1161.2,436.2 1156.9,436.9Z"/>
<path fill="#e0243f" d="M1168.8,432.8 1172.5,432.2 1173.1,433.5 1169.4,434Z"/>
<path fill="#2272fd" d="M1112.5,465.6 1111.9,470 1113.8,475 1115,480 1115.6,485 1114.4,488.1 1116.9,490.6 1120,487.5 1123.8,486.2 1128.8,485 1132.5,483.1 1137.5,482.2 1142.5,482.8 1145.6,485 1147.5,488.1 1148.8,488.8 1150,485.6 1151.5,485 1152.5,490 1154.4,493.1 1156.2,495.6 1160,496.9 1163.8,497.5 1166.2,498.1 1167.5,496.2 1171.2,495.6 1173.1,490 1175,485 1176.2,480 1176.9,475 1175.6,471.2 1173.1,467.5 1169.4,463.1 1166.2,458.8 1163.1,455 1161.9,451.2 1160,450 1158.5,445 1157.5,451.2 1156.2,456.2 1153.1,455.6 1149.4,452.5 1146.2,450 1148.1,446.9 1143.8,445 1139.4,446.9 1138.1,450.6 1135.6,451.2 1134.4,449.4 1131.2,451.2 1128.1,455 1125.6,458.1 1121.2,460.6 1116.2,462.5Z"/>
<path fill="#0a3189" d="M1167.5,506.2 1170,505 1170.6,506.9 1169,508.8 1167.8,508.1Z"/>
<path fill="#b4cdfb" d="M1203.1,485 1205,486.2 1207.5,489.4 1210,490.6 1210.6,493.1 1208.1,495 1206.9,492.5 1205.6,489.4 1203.8,486.9Z"/>
<path fill="#b4cdfb" d="M1195,505 1198.1,501.9 1201.9,498.1 1205,496.2 1205.6,498.1 1203.1,501.2 1200,504.4 1196.9,506.9 1194.8,506.9Z"/>
<path fill="none" stroke="#fbfcff" stroke-width="1.1" d="M686.1,242 686.1,283.8 690,284.4 693.8,288.5 696.9,286.9 699.4,290.6 702.5,295 704.4,298.8M716.9,320 763.8,320 767.5,323.1 770,325.6M800,330.2 804.4,324.8M729.4,360.6 733.8,362.5 740,361.5 744.4,361 747.5,363.8 750,366.2 753.8,365.6 755.6,370 756.9,373.1 759.4,373.8"/>
</g>
  <!-- legend -->
  <g>
    <rect x="874.5" y="541.5" width="174" height="24.5" fill="#fff"/>
    <rect x="875" y="542" width="28" height="23.6" fill="#0a3189"/>
    <rect x="904" y="542" width="28" height="23.6" fill="#2272fd"/>
    <rect x="933" y="542" width="28" height="23.6" fill="#b4cdfb"/>
    <rect x="962" y="542" width="28" height="23.6" fill="#f5a9b8"/>
    <rect x="991" y="542" width="28" height="23.6" fill="#e8607a"/>
    <rect x="1020" y="542" width="28" height="23.6" fill="#e0243f"/>
  </g>
</svg>
<div class="t title" style="left:43.25px;top:46.66px;font-size:34.2px;letter-spacing:0.12px;word-spacing:1.56px;transform:scaleY(1.03);transform-origin:0 0;">Von Globalisierung zu <span class="green">Großmacht-</span></div>
<div class="t title green" style="left:43.6px;top:86.96px;font-size:34.2px;letter-spacing:0.65px;transform:scaleY(1.03);transform-origin:0 0;">wettbewerb</div>
<div class="t sub" style="left:42.65px;top:151.1px;font-size:24px;">Putins Einmarsch in die Ukraine hat den Übergang in</div>
<div class="t sub" style="left:43.0px;top:179.9px;font-size:24px;letter-spacing:0.043px;">die neue Weltordnung vollendet</div>
<div class="t aw b" style="left:155.1px;top:272.2px;font-size:16px;letter-spacing:0.077px;">Globalisierung &amp;</div>
<div class="t aw b" style="left:171.75px;top:291.35px;font-size:16px;letter-spacing:0.019px;">„just in time“</div>
<div class="t aw" style="left:86.75px;top:318.5px;font-size:16px;letter-spacing:-0.05px;">Unternehmensinteressen und Effizienz</div>
<div class="t aw" style="left:125.1px;top:337.6px;font-size:16px;letter-spacing:-0.029px;">der Lieferketten dominieren</div>
<div class="t aw b" style="left:346.0px;top:462.2px;font-size:16px;letter-spacing:0.015px;">Großmachtwettbewerb &amp;</div>
<div class="t aw b" style="left:388.4px;top:482.2px;font-size:16px;letter-spacing:0.092px;">„just in case“</div>
<div class="t aw" style="left:329.35px;top:509.35px;font-size:16px;letter-spacing:-0.028px;">Nationale Sicherheitsinteressen</div>
<div class="t aw" style="left:336.5px;top:528.5px;font-size:16px;letter-spacing:-0.034px;">und <i>Resilienz</i> der Lieferketten</div>
<div class="t aw" style="left:401.4px;top:547.6px;font-size:16px;letter-spacing:0.106px;">dominieren</div>
<div class="t src" style="left:42.5px;top:648.6px;font-size:13.33px;letter-spacing:-0.061px;">Quelle: Union Investment; Stand: 15. Februar 2023.</div>
<div class="t ft" style="left:42.25px;top:685.6px;font-size:13.33px;letter-spacing:-0.233px;">Union Investment</div>
<div class="t ft ftg" style="left:153.0px;top:685.6px;font-size:13.33px;">|</div>
<div class="t ft ftg" style="left:164.0px;top:685.6px;font-size:13.33px;letter-spacing:-0.092px;">Genossenschaftliche FinanzGruppe Volksbanken Raiffeisenbanken</div>
<div class="t lg" style="left:932.15px;top:525.1px;font-size:15.5px;letter-spacing:0.183px;">Nähe zu</div>
<div class="t lg" style="left:874.3px;top:577.6px;font-size:16px;letter-spacing:0.325px;">USA</div>
<div class="t lg" style="left:1008.95px;top:577.6px;font-size:16px;letter-spacing:-0.488px;">China</div>




</body>
</html>
